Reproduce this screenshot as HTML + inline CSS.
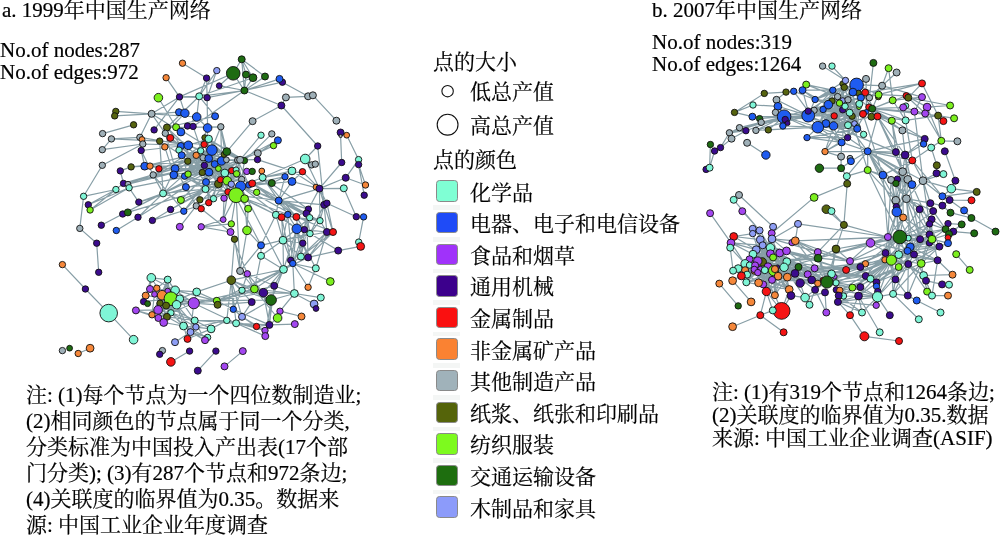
<!DOCTYPE html>
<html lang="zh"><head><meta charset="utf-8"><title>中国生产网络</title>
<style>
html,body{margin:0;padding:0;background:#fff;}
body{width:1000px;height:535px;position:relative;overflow:hidden;font-family:"Liberation Serif","Noto Serif CJK SC",serif;color:#000;font-size:21px;}
.t{position:absolute;white-space:nowrap;line-height:22px;-webkit-text-stroke:0.2px #000;will-change:transform;}
.lg{position:absolute;left:469.7px;white-space:nowrap;line-height:30px;height:30px;-webkit-text-stroke:0.2px #000;will-change:transform;}
.sw{position:absolute;left:436.4px;width:21.6px;height:21.4px;border-radius:3.5px;border:1px solid #8a8a8a;box-sizing:border-box;}
.sep{position:absolute;left:432.5px;width:27.3px;height:4.8px;background:#f4f6f5;}
svg{position:absolute;left:0;top:0;}
</style></head><body>
<svg id="net" width="1000" height="535" viewBox="0 0 1000 535">
<g id="edges" stroke="#879ea6" stroke-width="1.2" fill="none"><path d="M204.2 144.4L200.7 150.8M204.4 165.4L208.7 138.9M213.5 198.7L228.0 191.9M233.3 309.3L269.4 324.9M205.5 189.1L240.1 159.8M162.1 295.2L193.8 303.2M120.3 170.9L123.5 183.4M240.6 186.3L278.7 200.6M154.5 294.3L170.9 312.8M240.6 186.3L296.4 216.9M151.6 113.8L196.7 117.0M283.5 269.4L242.0 290.3M211.9 150.1L206.0 182.1M151.6 113.8L180.9 132.0M302.5 171.7L262.6 177.5M202.3 172.5L122.7 214.0M228.0 191.9L223.2 219.6M167.7 291.1L170.9 298.7M170.9 312.8L158.4 318.0M209.0 172.2L208.7 202.7M150.0 289.0L175.1 290.3M139.9 137.3L188.3 145.3M244.4 90.5L279.5 78.9M181.7 155.3L226.4 159.8M278.7 200.6L296.8 228.8M228.0 191.9L240.1 159.8M308.4 209.2L296.4 216.9M261.0 245.3L261.0 255.8M283.5 269.4L231.3 280.2M275.9 214.8L283.0 240.2M170.9 312.8L195.9 327.0M167.7 291.1L160.0 303.2M317.7 146.0L305.2 159.0M209.0 172.2L163.1 193.4M173.8 174.9L218.4 183.9M156.8 288.2L166.9 316.8M343.8 188.3L356.3 216.7M244.4 160.6L226.8 151.6M271.1 300.0L242.0 316.8M226.8 320.4L236.1 323.3M175.1 290.3L158.4 318.0M326.9 203.2L333.0 232.0M227.2 180.7L228.0 191.9M167.7 279.6L156.8 288.2M179.5 96.9L233.2 73.3M211.9 150.1L144.7 166.2M261.0 245.3L283.0 240.2M204.4 165.4L226.4 159.8M204.4 165.4L224.8 173.0M208.7 158.5L209.0 172.2M236.1 195.2L223.2 219.6M208.7 158.5L205.5 189.1M247.3 273.8L263.4 292.7M202.3 172.5L224.0 154.5M181.7 155.3L203.1 157.7M220.8 126.8L226.8 151.6M209.0 172.2L206.0 182.1M179.8 298.8L170.9 312.8M296.8 228.8L326.9 232.0M181.7 155.3L221.6 160.9M278.7 200.6L320.0 220.7M296.8 228.8L300.9 256.6M180.9 146.0L141.2 150.5M129.1 187.8L138.8 202.1M218.4 183.9L180.9 200.0M226.8 320.4L256.5 326.5M131.1 166.9L120.3 170.9M218.4 183.9L170.6 209.5M154.5 294.3L170.9 298.7M204.2 144.4L240.1 159.8M241.7 59.3L244.4 90.5M211.1 328.9L187.5 338.9M204.4 165.4L128.0 184.2M200.7 150.8L218.4 168.6M102.3 165.3L83.6 196.3M309.7 217.7L300.9 256.6M277.6 318.0L269.4 324.9M211.9 150.1L153.2 174.9M221.6 160.9L231.3 184.2M200.7 150.8L226.4 159.8M236.1 195.2L278.7 200.6M275.9 214.8L261.0 245.3M216.8 70.6L207.1 97.7M302.5 171.7L319.4 188.6M326.9 232.0L308.1 257.4M163.1 193.4L122.7 214.0M205.5 189.1L228.0 191.9M278.7 200.6L275.9 214.8M175.1 290.3L193.8 303.2M179.8 298.8L194.7 320.5M166.1 305.6L193.8 303.2M296.8 228.8L283.5 269.4M244.4 160.6L208.7 138.9M224.8 173.0L241.7 179.4M151.3 277.8L167.7 279.6M154.5 294.3L160.0 303.2M241.7 59.3L233.2 73.3M218.4 183.9L226.4 159.8M204.4 165.4L218.4 183.9M204.4 165.4L208.7 202.7M240.6 186.3L292.0 181.5M302.8 243.2L292.8 263.5M206.0 182.1L241.7 179.4M167.7 279.6L179.8 298.8M189.6 351.1L170.9 361.9M240.1 271.0L254.4 289.0M234.5 239.2L231.3 280.2M211.9 150.1L188.1 174.1M205.5 189.1L152.4 220.4M226.4 159.8L240.1 159.8M218.4 168.6L237.7 160.1M208.7 158.5L202.3 172.5M275.9 214.8L296.8 228.8M170.9 298.7L152.0 314.8M215.9 351.1L197.8 370.7M247.3 273.8L242.0 290.3M326.9 232.0L315.8 268.3M278.7 200.6L324.2 204.8M296.8 228.8L310.0 233.6M278.7 200.6L309.7 217.7M285.9 97.4L308.1 96.3M195.9 327.0L211.1 328.9M179.0 150.1L209.0 172.2M292.0 181.5L319.4 188.6M195.9 327.0L226.8 320.4M292.0 181.5L278.7 200.6M237.7 160.1L241.7 179.4M115.8 111.4L151.6 113.8M242.0 316.8L265.0 330.5M204.4 165.4L123.5 183.4M160.0 303.2L170.9 312.8M165.3 133.3L175.1 168.6M346.7 135.2L358.6 159.6M200.7 150.8L218.4 183.9M223.2 219.6L201.2 226.8M240.1 271.0L247.3 273.8M224.0 154.5L226.8 151.6M216.8 300.8L263.4 292.7M221.6 160.9L241.7 179.4M205.5 189.1L170.6 209.5M236.1 195.2L287.8 214.5M253.0 77.7L244.4 90.5M114.7 115.9L151.6 113.8M170.9 298.7L158.4 318.0M285.0 176.7L278.7 200.6M216.8 70.6L199.2 96.3M205.5 189.1L252.2 171.4M261.0 255.8L283.5 269.4M224.8 173.0L240.1 159.8M326.9 232.0L300.9 256.6M188.1 174.1L213.5 198.7M231.3 280.2L236.1 323.3M278.7 200.6L306.5 213.5M226.4 159.8L248.9 185.0M296.8 228.8L283.0 240.2M358.6 164.6L364.2 195.2M218.4 183.9L208.7 202.7M345.7 177.8L319.4 188.6M242.0 290.3L263.4 292.7M196.7 291.9L231.3 280.2M151.3 277.8L162.1 295.2M152.0 314.8L163.7 322.5M165.3 133.3L204.4 165.4M275.9 214.8L320.0 220.7M363.6 216.9L358.7 242.1M176.1 127.2L204.2 144.4M306.5 213.5L308.1 257.4M236.1 195.2L248.1 208.7M179.8 298.8L160.0 303.2M240.6 186.3L283.5 269.4M292.0 170.9L285.0 176.7M296.4 216.9L304.4 229.6M96.7 243.2L98.7 272.3M83.6 196.3L79.8 228.4M184.9 113.2L165.3 133.3M280.0 311.2L301.5 316.5M188.3 145.3L226.4 159.8M319.4 188.6L278.7 200.6M220.8 126.8L226.4 159.8M62.4 264.6L85.4 289.0M183.5 326.0L207.6 337.4M317.7 146.0L326.9 232.0M236.6 173.8L227.2 180.7M151.3 277.8L175.1 290.3M159.7 141.1L204.2 144.4M170.9 298.7L193.8 303.2M179.5 96.9L184.9 113.2M216.8 300.8L283.5 269.4M224.0 154.5L208.7 138.9M315.8 268.3L308.1 287.3M179.8 298.8L216.8 300.8M163.1 193.4L180.9 200.0M188.3 145.3L184.6 176.2M219.2 85.7L244.4 90.5M310.0 233.6L283.0 240.2M208.7 158.5L236.1 195.2M175.1 290.3L196.7 291.9M231.3 280.2L226.8 320.4M187.8 161.2L131.1 166.9M175.1 168.6L218.4 168.6M319.4 188.6L308.4 209.2M283.0 240.2L300.9 256.6M190.5 332.1L207.6 337.4M221.6 160.9L213.5 198.7M165.3 133.3L200.7 150.8M214.7 164.1L226.8 151.6M254.4 289.0L277.6 318.0M170.9 298.7L143.6 301.6M152.0 314.8L158.4 318.0M166.9 127.5L202.3 172.5M306.5 213.5L300.9 256.6M205.5 189.1L127.8 212.4M226.4 159.8L208.7 138.9M285.0 176.7L240.6 186.3M156.8 288.2L162.1 295.2M252.6 121.2L226.8 151.6M208.7 158.5L227.2 180.7M219.2 85.7L233.2 73.3M292.0 170.9L262.6 177.5M220.8 126.8L221.6 160.9M244.6 198.7L247.0 230.4M188.3 145.3L221.6 160.9M310.0 233.6L338.2 250.6M201.2 208.7L230.5 232.0M108.7 313.1L133.6 339.7M194.7 320.5L236.1 323.3M193.8 303.2L254.4 289.0M277.9 140.3L257.8 153.2M274.2 285.8L269.4 324.9M183.5 326.0L187.5 338.9M111.4 138.9L159.7 141.1M283.0 240.2L302.8 243.2M144.7 166.2L209.0 172.2M283.0 240.2L283.5 269.4M159.7 141.1L181.7 155.3M176.6 304.8L190.5 332.1M206.0 182.1L183.8 211.2M236.1 169.8L228.0 191.9M207.1 97.7L207.6 128.0M211.9 150.1L226.8 151.6M256.7 192.3L306.5 213.5M283.5 269.4L271.1 300.0M205.5 189.1L163.1 193.4M261.0 135.2L240.1 159.8M227.2 180.7L261.0 245.3M252.2 183.4L271.8 183.1M231.3 280.2L263.4 292.7M203.1 157.7L206.0 182.1M167.7 291.1L152.0 314.8M220.5 179.7L226.8 151.6M326.9 203.2L356.3 216.7M204.2 144.4L184.6 176.2M199.2 96.3L244.4 90.5M196.2 155.3L209.0 172.2M308.4 209.2L304.4 229.6M220.5 179.7L236.1 169.8M283.5 269.4L254.4 289.0M142.8 144.0L102.3 149.7M208.7 158.5L226.8 151.6M153.2 174.9L123.5 183.4M306.5 213.5L310.0 233.6M162.1 295.2L170.9 312.8M211.9 150.1L224.0 154.5M193.1 126.4L209.0 172.2M203.1 157.7L175.1 168.6M231.3 280.2L251.7 302.1M251.7 302.1L242.0 316.8M211.9 150.1L228.0 191.9M244.4 90.5L281.4 105.5M193.8 303.2L217.6 304.8M194.7 320.5L211.1 328.9M167.7 291.1L158.4 318.0M115.9 189.5L83.6 196.3M194.7 320.5L226.8 320.4M196.7 291.9L216.8 300.8M236.1 323.3L269.4 324.9M208.7 202.7L152.4 220.4M294.4 293.5L271.1 300.0M176.6 304.8L152.0 314.8M204.2 144.4L218.4 183.9M202.3 172.5L208.7 138.9M151.6 113.8L165.3 133.3M263.4 292.7L269.4 324.9M341.7 162.5L319.4 188.6M170.9 312.8L183.5 326.0M167.7 279.6L170.9 312.8M231.3 280.2L242.0 290.3M281.6 217.2L283.0 240.2M139.9 137.3L111.4 138.9M252.2 183.4L306.5 213.5M274.2 285.8L294.4 293.5M209.0 172.2L244.4 160.6M194.7 320.5L205.0 340.2M184.6 176.2L218.4 183.9M320.0 220.7L326.9 232.0M175.1 290.3L166.9 316.8M160.0 303.2L193.8 303.2M333.0 232.0L308.1 257.4M199.2 96.3L215.1 116.2M135.9 310.4L158.1 309.9M257.8 153.2L240.1 159.8M271.8 133.9L244.4 160.6M162.1 295.2L166.1 305.6M176.6 304.8L158.4 318.0M196.2 155.3L202.3 172.5M220.5 179.7L237.7 160.1M154.5 294.3L152.0 314.8M182.5 63.2L206.6 78.1M240.6 186.3L281.6 217.2M142.8 144.0L188.3 145.3M151.6 113.8L179.0 112.2M283.5 269.4L274.2 285.8M230.5 232.0L247.3 273.8M200.7 150.8L241.7 179.4M214.7 164.1L226.4 159.8M214.7 164.1L224.8 173.0M188.3 145.3L208.7 138.9M282.4 82.2L308.1 96.3M163.7 322.5L183.5 326.0M257.5 159.6L240.1 159.8M181.7 155.3L206.0 182.1M231.7 170.6L241.7 179.4M209.0 172.2L224.0 154.5M196.7 117.0L207.6 128.0M193.8 303.2L216.8 300.8M292.8 263.5L294.4 293.5M324.2 204.8L320.0 220.7M236.1 323.3L256.5 326.5M294.4 293.5L320.8 297.6M233.3 309.3L242.0 316.8M196.2 155.3L188.1 174.1M176.6 304.8L195.9 327.0M233.2 73.3L244.4 90.5M167.7 279.6L166.1 305.6M305.2 159.0L262.6 177.5M158.1 309.9L163.7 322.5M261.0 245.3L240.1 271.0M281.4 105.5L317.7 146.0M204.4 165.4L227.2 180.7M142.8 144.0L102.3 165.3M170.9 312.8L194.7 320.5M206.6 78.1L207.1 97.7M281.6 217.2L290.7 260.3M296.8 228.8L292.8 263.5M292.8 263.5L308.1 287.3M226.8 320.4L265.0 330.5M271.1 300.0L269.4 324.9M206.0 182.1L240.1 159.8M176.6 304.8L193.8 303.2M358.6 159.6L345.7 177.8M320.0 220.7L310.0 233.6M257.5 159.6L292.0 170.9M175.1 290.3L170.9 312.8M300.9 256.6L283.5 269.4M215.1 116.2L166.9 127.5M333.0 232.0L300.9 256.6M199.2 96.3L196.7 117.0M213.5 198.7L227.2 180.7M227.2 180.7L241.7 179.4M204.7 137.6L244.4 160.6M236.1 323.3L265.3 336.1M305.2 159.0L311.6 164.9M263.4 292.7L294.4 293.5M162.1 295.2L160.0 303.2M167.7 279.6L170.9 298.7M211.9 150.1L184.6 176.2M193.1 126.4L244.4 90.5M221.6 160.9L236.1 195.2M247.3 273.8L254.4 289.0M181.7 155.3L211.9 150.1M170.9 312.8L190.5 332.1M237.7 160.1L240.1 159.8M209.0 172.2L129.1 187.8M281.6 217.2L296.8 228.8M209.0 172.2L180.9 200.0M278.7 200.6L296.4 216.9M231.7 170.6L236.6 173.8M180.9 146.0L188.3 145.3M180.9 146.0L208.7 158.5M292.8 263.5L315.8 268.3M122.7 214.0L101.3 225.2M218.4 183.9L196.3 205.9M199.9 199.8L228.0 191.9M221.6 160.9L240.1 159.8M166.1 305.6L194.7 320.5M241.7 59.3L265.0 76.5M204.2 144.4L211.9 150.1M211.1 328.9L226.8 320.4M200.7 150.8L206.0 182.1M244.4 160.6L241.7 179.4M167.7 279.6L167.7 291.1M159.7 141.1L163.1 193.4M211.9 150.1L158.9 168.8M158.1 309.9L158.4 318.0M248.1 208.7L247.0 230.4M208.7 158.5L184.6 176.2M231.3 223.9L201.2 226.8M170.3 137.9L209.0 172.2M302.5 171.7L292.0 181.5M205.5 189.1L241.7 179.4M261.0 255.8L254.4 289.0M277.9 140.3L240.1 159.8M265.0 76.5L244.4 90.5M278.7 200.6L308.4 209.2M206.6 78.1L199.2 96.3M296.8 228.8L290.7 260.3M129.1 187.8L90.1 210.0M292.8 263.5L330.3 281.5M237.7 160.1L248.9 185.0M166.1 305.6L158.1 309.9M179.5 96.9L207.1 97.7M220.5 179.7L208.7 202.7M179.5 96.9L154.1 129.9M234.5 239.2L240.1 271.0M216.8 300.8L271.1 300.0M196.2 155.3L227.2 180.7M85.4 289.0L108.7 313.1M211.9 150.1L163.1 193.4M247.3 273.8L274.2 285.8M326.9 232.0L283.0 240.2M163.1 193.4L138.8 202.1M181.7 155.3L200.7 150.8M163.1 193.4L138.0 217.2M237.7 160.1L226.8 151.6M196.3 205.9L179.8 226.8M358.6 164.6L365.5 185.0M278.7 200.6L287.8 214.5M292.8 263.5L283.5 269.4M203.1 157.7L227.2 180.7M271.1 300.0L265.3 336.1M224.8 173.0L228.0 191.9M242.0 290.3L271.1 300.0M241.7 59.3L253.0 77.7M204.4 165.4L202.3 172.5M309.7 217.7L296.8 228.8M150.0 166.1L204.4 165.4M167.7 279.6L175.1 290.3M221.6 160.9L236.1 169.8M302.8 243.2L315.8 268.3M216.8 300.8L254.4 289.0M214.7 164.1L209.0 172.2M208.7 158.5L187.8 161.2M158.1 309.9L166.9 316.8M216.8 300.8L233.3 309.3M164.8 146.9L173.8 174.9M209.0 172.2L240.1 159.8M236.1 195.2L275.9 214.8M179.8 298.8L193.8 303.2M208.7 158.5L123.5 183.4M170.9 298.7L170.9 312.8M236.1 195.2L231.3 223.9M296.4 216.9L333.0 232.0M231.3 280.2L242.0 316.8M175.1 290.3L160.0 303.2M242.8 351.1L224.5 366.4M285.9 97.4L281.4 105.5M296.8 228.8L308.1 257.4M187.8 161.2L128.0 184.2M129.1 187.8L88.3 204.8M207.6 128.0L206.0 182.1M193.8 303.2L190.5 332.1M283.0 240.2L261.0 255.8M242.0 316.8L236.1 323.3M111.4 138.9L102.3 149.7M151.3 277.8L145.7 295.6M242.0 290.3L233.3 309.3M193.8 303.2L236.1 323.3M160.0 303.2L158.4 318.0M200.7 150.8L202.3 172.5M179.5 96.9L199.2 96.3M275.9 214.8L296.4 216.9M302.8 243.2L300.9 256.6M218.4 168.6L206.0 182.1M153.2 174.9L163.1 193.4M208.7 158.5L214.7 164.1M203.1 157.7L209.0 172.2M203.1 157.7L205.5 189.1M338.2 250.6L308.1 257.4M175.1 168.6L173.8 174.9M175.1 290.3L216.8 300.8M175.1 168.6L123.5 183.4M175.1 168.6L163.1 193.4M204.7 137.6L184.6 176.2M309.7 217.7L320.0 220.7M218.4 183.9L185.9 187.1M175.1 168.6L196.3 205.9M345.7 177.8L365.5 185.0M78.2 353.5L90.1 348.2M158.4 97.7L176.1 127.2M221.6 160.9L208.7 138.9M151.3 277.8L150.0 289.0M242.0 316.8L256.5 326.5M241.7 59.3L246.0 74.6M145.7 295.6L170.9 298.7M273.5 145.6L257.8 153.2M294.4 293.5L280.0 311.2M256.7 192.3L308.4 209.2M179.5 96.9L151.6 113.8M218.4 168.6L209.0 172.2M221.6 160.9L231.7 170.6M216.8 300.8L274.2 285.8M285.0 176.7L271.8 183.1M170.9 298.7L158.1 309.9M224.0 198.2L223.2 219.6M292.0 170.9L319.4 188.6M296.4 216.9L300.9 256.6M133.6 124.8L102.6 133.6M187.8 161.2L173.8 174.9M319.4 188.6L326.9 203.2M319.4 188.6L320.0 220.7M281.4 105.5L252.6 121.2M237.7 160.1L231.3 184.2M324.2 204.8L333.0 232.0M206.0 182.1L138.8 202.1M160.0 303.2L166.9 316.8M246.0 74.6L244.4 90.5M207.1 97.7L244.4 90.5M153.2 174.9L175.1 168.6M166.9 316.8L183.5 326.0M153.2 174.9L209.0 172.2M204.2 144.4L236.6 173.8M306.5 213.5L304.4 229.6M205.5 189.1L183.8 211.2M231.3 280.2L271.1 300.0M252.2 183.4L278.7 200.6M188.1 174.1L221.6 160.9M252.2 183.4L296.4 216.9M224.0 154.5L227.2 180.7M175.1 290.3L154.5 294.3M226.4 159.8L236.1 195.2M196.7 291.9L193.8 303.2M183.5 326.0L211.1 328.9M193.8 303.2L158.4 318.0M283.0 240.2L290.7 260.3M190.5 332.1L175.0 342.2M185.9 187.1L138.0 217.2M170.9 298.7L160.0 303.2M208.7 138.9L240.1 159.8M151.6 113.8L139.9 137.3M123.5 183.4L115.9 189.5M340.6 136.0L341.7 162.5M167.7 279.6L158.1 309.9M209.0 172.2L208.7 138.9M179.8 298.8L166.1 305.6M214.7 164.1L241.7 179.4M153.2 174.9L183.8 211.2M231.3 280.2L254.4 289.0M231.3 280.2L233.3 309.3M262.6 177.5L278.7 200.6M220.8 126.8L202.3 172.5M262.6 177.5L296.4 216.9M209.0 172.2L231.7 170.6M287.8 214.5L283.0 240.2M287.8 214.5L292.8 263.5M319.4 188.6L343.8 188.3M181.7 155.3L236.1 169.8M319.4 188.6L324.2 204.8M254.4 289.0L294.4 293.5M173.8 174.9L228.0 191.9M207.6 128.0L188.1 174.1M135.9 310.4L152.0 314.8M183.5 326.0L205.0 340.2M176.6 304.8L166.9 316.8M166.9 127.5L220.8 126.8M196.2 155.3L220.5 179.7M138.0 217.2L116.3 230.5M79.8 228.4L96.7 243.2M220.5 179.7L224.8 173.0M166.9 127.5L196.2 155.3M152.0 314.8L158.1 309.9M256.5 326.5L269.4 324.9M204.2 144.4L244.4 160.6M141.2 150.5L144.7 166.2M166.9 316.8L194.7 320.5M196.2 155.3L226.4 159.8M162.1 295.2L152.0 314.8M360.7 246.4L338.2 250.6M269.4 324.9L294.8 324.1M304.4 229.6L292.8 263.5M236.1 195.2L240.1 271.0M262.6 177.5L308.4 209.2M308.1 257.4L283.5 269.4M184.6 176.2L205.5 189.1M115.9 189.5L90.1 210.0M199.2 96.3L166.9 127.5M135.9 310.4L158.4 318.0M190.5 332.1L205.0 340.2M217.6 304.8L251.7 302.1M196.2 155.3L184.6 176.2M176.6 304.8L183.5 326.0M154.5 294.3L166.9 316.8M283.5 269.4L263.4 292.7M141.2 150.5L153.2 174.9M247.0 230.4L261.0 245.3M170.9 312.8L163.7 322.5M167.7 279.6L152.0 314.8M208.7 158.5L241.7 179.4M166.1 77.7L179.5 96.9M184.6 176.2L204.4 165.4M213.5 198.7L236.1 169.8M160.0 303.2L166.1 305.6M196.7 291.9L179.8 298.8M201.2 226.8L230.5 232.0M200.7 150.8L226.8 151.6M204.2 144.4L153.2 174.9M294.4 293.5L314.1 304.0M199.2 96.3L253.0 77.7M324.2 204.8L310.0 233.6M176.6 304.8L170.9 312.8M305.2 159.0L319.4 188.6M204.4 165.4L228.0 191.9M244.6 198.7L275.9 214.8M282.4 82.2L244.4 90.5M167.7 291.1L166.1 305.6M167.7 279.6L158.4 318.0M247.0 230.4L240.1 271.0M262.6 177.5L240.6 186.3M196.7 117.0L187.5 126.0M131.1 166.9L144.7 166.2M184.6 176.2L202.3 172.5M287.8 214.5L296.8 228.8M312.9 95.3L336.4 120.7M115.9 189.5L88.3 204.8"/><path d="M762.3 261.9L800.1 283.1M761.2 122.3L808.2 115.6M891.4 260.1L898.7 267.0M842.7 100.6L859.3 103.9M846.8 176.2L847.2 183.7M854.5 123.6L845.1 106.3M757.8 261.1L747.1 274.6M738.2 268.6L773.6 270.7M923.6 275.5L932.0 295.6M817.8 127.2L857.2 128.8M817.8 127.2L841.6 142.4M843.5 296.0L877.5 296.8M910.3 246.9L907.5 250.9M857.7 126.4L852.9 92.1M893.1 293.9L918.8 319.3M951.3 188.7L976.7 191.9M817.8 252.1L827.0 282.0M754.3 271.0L789.2 289.5M719.3 283.6L738.2 305.9M902.7 171.7L896.8 211.9M903.2 107.4L872.2 108.7M776.5 99.8L784.1 116.7M752.7 228.8L770.4 247.7M760.3 239.7L773.6 270.7M779.7 253.0L773.6 270.7M858.5 296.0L877.5 296.8M739.0 195.0L773.1 226.8M754.3 269.4L763.2 284.4M908.3 238.1L929.5 242.9M976.7 191.9L942.4 196.3M858.5 296.0L850.0 315.2M914.0 254.5L891.4 260.1M786.5 250.9L745.1 263.8M791.0 295.6L805.1 297.6M755.1 265.4L787.3 277.1M784.1 267.3L815.1 289.8M867.7 151.3L867.7 170.1M852.1 116.2L857.2 128.8M867.7 151.3L912.0 184.6M733.7 236.5L756.2 249.7M867.7 151.3L906.4 198.7M831.5 211.1L843.9 224.9M771.7 233.3L762.3 261.9M762.3 261.9L772.0 279.9M757.8 272.6L772.0 279.9M762.3 261.9L827.0 282.0M891.4 260.1L870.5 278.8M906.2 95.8L872.2 108.7M828.3 104.7L808.2 115.6M891.1 179.9L887.9 237.0M844.3 87.3L852.9 92.1M891.4 260.1L860.4 287.1M842.7 100.6L852.9 92.1M738.2 268.6L754.3 271.0M770.4 247.7L774.9 295.2M850.0 261.1L899.8 237.0M877.5 116.4L902.4 130.4M857.2 128.8L847.6 137.6M818.1 258.2L757.8 261.1M902.7 171.7L895.8 200.3M825.0 151.6L867.7 151.3M931.6 219.3L945.6 229.2M882.9 175.1L863.0 114.0M971.4 218.0L995.5 231.6M831.5 273.9L860.4 267.0M784.1 267.3L774.9 295.2M867.7 151.3L895.9 152.1M867.7 151.3L882.9 175.1M762.3 261.9L764.8 270.2M832.0 101.0L854.5 123.6M762.3 261.9L758.6 282.8M891.4 260.1L921.2 263.5M854.5 123.6L849.6 112.7M745.1 263.8L772.0 279.9M770.4 247.7L789.2 289.5M950.5 212.7L971.4 218.0M798.0 223.9L795.3 240.8M891.4 260.1L876.5 282.3M814.6 268.3L865.4 263.8M848.0 125.2L857.2 128.8M877.5 116.4L905.6 120.4M882.1 85.7L869.4 97.7M931.2 147.6L936.8 165.3M760.3 239.7L757.8 261.1M779.7 253.0L757.8 261.1M837.9 301.9L862.0 312.5M885.5 253.0L923.6 275.5M850.9 161.2L867.7 151.3M784.1 267.3L787.3 277.1M747.1 142.8L765.9 155.0M844.3 87.3L842.7 100.6M842.7 100.6L814.1 110.3M827.0 282.0L825.0 292.4M784.1 267.3L789.2 289.5M842.7 100.6L834.2 115.9M839.8 290.3L898.7 267.0M834.2 115.9L845.1 106.3M852.1 116.2L872.2 108.7M762.3 261.9L733.1 270.7M834.2 115.9L848.0 125.2M832.0 101.0L845.5 80.5M770.4 247.7L773.6 270.7M762.3 261.9L757.8 272.6M852.4 287.6L877.5 296.8M762.3 261.9L746.3 282.3M832.8 90.2L808.2 115.6M845.1 106.3L852.9 92.1M919.6 209.2L920.1 239.2M858.5 93.1L848.0 99.8M815.1 289.8L809.5 304.8M832.8 90.2L852.1 116.2M730.2 247.7L733.1 270.7M848.0 99.8L857.2 128.8M848.0 99.8L841.6 142.4M818.1 258.2L762.3 261.9M745.1 270.2L772.0 279.9M762.3 261.9L741.4 275.9M757.8 272.6L741.4 275.9M766.4 291.5L781.6 310.9M779.7 253.0L755.1 265.4M807.0 137.6L847.6 137.6M885.5 253.0L914.0 254.5M887.9 237.0L914.0 254.5M776.5 99.8L808.2 115.6M837.6 96.6L848.0 99.8M842.7 109.8L863.0 114.0M808.2 115.6L895.9 152.1M762.7 245.3L786.5 250.9M844.3 87.3L832.8 90.2M778.1 276.2L852.4 287.6M795.0 273.4L766.4 291.5M842.7 100.6L828.3 104.7M844.3 87.3L828.3 104.7M949.6 200.0L964.1 210.4M833.6 125.9L871.4 116.7M770.4 247.7L754.3 271.0M839.8 290.3L860.4 287.1M833.6 125.9L848.0 125.2M817.8 127.2L807.0 137.6M772.0 238.9L850.0 261.1M762.3 261.9L795.0 273.4M757.8 272.6L795.0 273.4M745.1 263.8L757.8 272.6M798.0 223.9L772.0 238.9M811.7 279.9L827.0 282.0M815.1 289.8L805.1 297.6M848.0 99.8L878.6 94.7M774.9 269.1L774.9 295.2M903.2 217.5L885.5 253.0M877.5 116.4L891.8 120.7M939.4 246.6L908.3 264.1M784.1 116.7L854.5 123.6M931.2 147.6L912.3 160.4M837.9 301.9L877.5 296.8M760.3 239.7L762.3 261.9M779.7 253.0L762.3 261.9M731.5 138.7L720.5 147.6M887.9 237.0L870.5 242.9M837.9 301.9L850.0 315.2M768.0 266.7L772.0 279.9M773.1 226.8L771.7 233.3M752.4 116.7L784.1 116.7M938.1 115.6L905.6 120.4M773.1 226.8L770.4 247.7M784.1 267.3L778.1 276.2M807.7 274.3L865.7 275.9M833.6 125.9L817.8 127.2M832.0 101.0L817.8 127.2M784.1 267.3L811.7 279.9M837.6 96.6L857.2 128.8M837.6 96.6L863.0 114.0M825.9 123.5L848.0 125.2M905.1 155.0L907.8 179.4M895.9 183.4L907.8 179.4M762.3 261.9L745.1 263.8M770.4 247.7L846.1 269.9M762.3 261.9L738.2 268.6M832.8 90.2L815.1 99.5M770.4 247.7L777.6 267.0M762.3 261.9L774.9 269.1M802.5 90.2L808.2 111.1M945.6 229.2L929.5 234.5M772.0 238.9L754.3 271.0M924.7 138.9L905.1 155.0M907.8 179.4L912.0 184.6M867.7 170.1L891.1 179.9M907.8 179.4L906.4 198.7M745.9 130.7L731.5 138.7M730.2 247.7L745.1 263.8M787.3 277.1L827.0 282.0M903.2 217.5L885.0 259.8M823.1 109.5L859.0 107.1M842.7 109.8L825.9 123.5M752.7 233.6L733.7 236.5M760.3 239.7L770.4 253.7M807.0 137.6L857.2 128.8M887.9 237.0L898.7 254.6M752.7 233.6L762.3 261.9M749.5 259.3L754.3 271.0M912.0 184.6L929.5 223.9M749.5 259.3L778.1 276.2M873.4 62.9L869.4 97.7M850.0 315.2L864.4 336.3M949.6 200.0L971.5 200.3M770.4 247.7L779.7 253.0M839.8 290.3L891.4 260.1M714.6 151.0L709.6 167.7M772.0 238.9L817.8 252.1M898.7 267.0L870.5 278.8M895.9 183.4L896.3 206.7M922.0 83.4L865.2 92.6M833.6 125.9L849.6 112.7M770.4 247.7L745.1 270.2M762.3 261.9L754.3 269.4M846.1 269.9L831.5 273.9M841.6 142.4L867.7 151.3M784.1 116.7L729.4 132.8M793.7 91.3L828.3 104.7M817.8 252.1L786.8 261.7M939.4 246.6L907.5 250.9M948.0 243.2L932.0 239.2M814.6 268.3L891.4 260.1M817.8 252.1L850.0 261.1M787.3 277.1L758.6 282.8M828.3 104.7L847.6 137.6M770.4 253.7L749.5 265.1M753.0 254.2L774.9 295.2M925.2 113.5L941.3 140.8M768.0 266.7L757.8 272.6M837.9 301.9L858.5 296.0M921.2 263.5L907.8 295.6M887.9 237.0L891.4 260.1M885.5 253.0L891.4 260.1M943.4 174.1L923.0 180.7M907.8 179.4L920.1 239.2M825.0 292.4L826.3 312.5M764.8 270.2L747.1 274.6M773.6 270.7L766.4 291.5M832.0 101.0L833.6 125.9M949.6 200.0L942.4 205.6M770.4 247.7L762.3 261.9M844.3 87.3L857.7 126.4M922.0 97.1L892.7 100.3M832.8 90.2L823.1 109.5M906.4 198.7L896.8 211.9M923.0 180.7L906.4 198.7M836.0 249.0L850.0 261.1M784.1 116.7L817.8 127.2M867.7 170.1L882.9 175.1M786.8 261.7L773.6 270.7M839.5 103.1L863.0 114.0M839.5 103.1L857.2 128.8M836.0 249.0L831.5 273.9M848.0 99.8L852.9 92.1M857.2 128.8L852.9 92.1M815.1 99.5L856.6 84.9M877.5 116.4L852.9 92.1M942.4 196.3L949.6 200.0M770.4 253.7L798.5 267.0M823.1 109.5L845.1 106.3M887.9 237.0L899.8 237.0M822.6 66.1L845.5 80.5M859.0 107.1L854.5 123.6M815.1 99.5L845.5 80.5M768.0 266.7L795.0 273.4M887.9 237.0L885.5 253.0M914.0 254.5L876.5 282.3M895.9 152.1L902.7 171.7M850.9 161.2L841.1 168.2M784.1 267.3L814.6 268.3M902.4 130.4L907.8 179.4M818.1 258.2L870.5 242.9M753.0 105.0L777.9 106.3M938.1 115.6L872.2 108.7M773.6 270.7L800.1 283.1M896.8 211.9L887.9 237.0M899.8 237.0L908.3 264.1M837.6 96.6L859.3 103.9M755.1 265.4L774.9 295.2M760.3 268.9L757.8 272.6M908.3 97.7L925.2 113.5M825.9 123.5L863.0 114.0M770.4 247.7L770.4 253.7M745.9 130.7L729.4 132.8M825.9 123.5L841.6 142.4M772.0 238.9L762.3 261.9M832.0 66.1L845.5 80.5M757.8 261.1L772.0 279.9M795.3 240.8L827.0 282.0M786.8 261.7L768.0 266.7M839.5 103.1L852.1 116.2M839.5 103.1L878.6 94.7M784.1 116.7L768.3 129.9M808.2 115.6L817.8 127.2M762.3 261.9L865.7 275.9M753.0 254.2L773.6 270.7M786.8 261.7L811.7 279.9M828.3 104.7L863.0 114.0M787.3 277.1L763.2 284.4M908.3 264.1L927.1 291.6M903.2 217.5L887.9 237.0M939.4 246.6L910.3 246.9M896.8 211.9L903.2 217.5M838.7 295.6L862.0 312.5M815.1 99.5L845.1 106.3M921.2 263.5L893.1 293.9M896.6 72.5L882.1 85.7M773.6 270.7L772.0 279.9M938.1 115.6L943.4 121.1M753.0 105.0L734.5 112.4M773.6 270.7L827.0 282.0M774.9 295.2L781.6 310.9M814.1 110.3L852.9 92.1M844.3 87.3L865.2 92.6M827.0 282.0L891.4 260.1M773.1 257.4L757.8 272.6M827.0 282.0L865.7 275.9M757.8 261.1L764.8 270.2M802.5 90.2L815.1 99.5M773.1 257.4L746.3 282.3M760.3 268.9L763.2 284.4M827.0 282.0L852.4 287.6M920.1 239.2L939.4 246.6M841.6 142.4L847.6 137.6M757.8 261.1L758.6 282.8M932.0 239.2L921.2 263.5M864.4 336.3L899.0 341.0M786.8 261.7L846.1 269.9M850.0 261.1L885.5 253.0M815.1 99.5L828.3 104.7M847.6 137.6L825.0 151.6M882.9 175.1L887.9 237.0M842.7 109.8L814.1 110.3M778.1 276.2L789.2 289.5M808.2 111.1L834.2 115.9M808.2 115.6L849.6 112.7M842.7 109.8L834.2 115.9M823.1 109.5L849.6 112.7M914.0 254.5L908.3 264.1M896.3 206.7L896.8 211.9M942.1 284.4L949.0 284.7M902.4 130.4L924.7 138.9M929.5 223.9L907.5 250.9M773.6 270.7L758.6 282.8M927.1 107.1L950.1 105.5M899.8 237.0L860.4 267.0M839.5 103.1L842.7 109.8M867.7 151.3L896.8 211.9M805.1 297.6L809.5 304.8M844.3 87.3L845.5 80.5M772.0 238.9L795.3 240.8M860.4 287.1L877.5 296.8M912.3 160.4L902.7 171.7M757.8 261.1L746.3 282.3M819.4 168.2L841.1 168.2M817.8 127.2L857.7 126.4M912.3 160.4L923.0 180.7M923.0 180.7L951.3 188.7M906.4 198.7L933.2 211.1M753.0 254.2L757.8 261.1M784.1 116.7L808.2 115.6M815.1 99.5L832.0 101.0M839.5 103.1L859.3 103.9M784.1 116.7L755.9 130.4M823.1 109.5L833.6 125.9M908.3 264.1L923.6 275.5M936.8 165.3L936.5 173.3M937.6 260.3L932.0 295.6M910.3 246.9L923.6 275.5M770.4 253.7L786.8 261.7M877.5 116.4L902.7 171.7M837.6 96.6L842.7 100.6M757.8 261.1L741.4 275.9M926.0 280.7L942.1 284.4M818.1 258.2L827.0 282.0M931.6 219.3L932.0 239.2M891.8 120.7L872.2 108.7M759.6 230.4L770.4 247.7M762.7 245.3L773.6 270.7M786.5 250.9L773.6 270.7M818.1 258.2L899.8 237.0M929.5 223.9L929.5 242.9M773.6 270.7L746.3 282.3M852.1 116.2L857.7 126.4M867.7 151.3L907.8 179.4M908.3 97.7L950.1 105.5M867.7 151.3L895.8 200.3M896.8 211.9L898.7 254.6M833.6 125.9L825.0 151.6M920.1 239.2L932.0 239.2M814.1 197.4L771.7 233.3M732.6 280.7L751.1 301.9M891.4 260.1L865.7 275.9M891.4 260.1L852.4 287.6M892.7 100.3L905.6 120.4M731.0 242.9L756.2 249.7M757.8 261.1L763.2 284.4M891.4 260.1L877.5 296.8M912.3 160.4L942.4 196.3M773.6 270.7L741.4 275.9M786.8 261.7L814.6 268.3M753.0 254.2L779.7 253.0M764.3 93.4L734.5 112.4M882.1 85.7L922.0 97.1M823.1 109.5L808.2 115.6M828.3 104.7L859.3 103.9M863.6 134.4L845.1 106.3M941.3 140.8L931.2 147.6M907.8 295.6L916.7 300.5M877.5 116.4L905.1 155.0M798.5 267.0L754.3 269.4M806.2 84.6L802.5 90.2M778.1 276.2L766.4 291.5M908.3 238.1L870.5 242.9M888.6 68.2L892.7 100.3M779.7 253.0L827.0 282.0M891.1 179.9L896.8 211.9M786.5 250.9L754.3 271.0M948.0 223.6L945.6 229.2M773.6 270.7L795.0 273.4M953.3 231.6L974.2 233.3M899.8 237.0L910.3 246.9M842.7 100.6L817.8 127.2M773.6 270.7L763.2 284.4M710.4 144.5L709.6 167.7M773.1 257.4L784.1 267.3M834.2 115.9L847.6 137.6M757.8 261.1L745.1 263.8M825.9 123.5L852.9 92.1M773.1 257.4L754.3 269.4M906.2 95.8L927.1 107.1M827.0 282.0L860.4 267.0M757.8 261.1L738.2 268.6M891.4 260.1L908.3 264.1M777.6 267.0L774.9 295.2M923.6 275.5L926.0 280.7M738.2 268.6L764.8 270.2M891.4 260.1L893.1 293.9M817.8 127.2L854.5 123.6M753.0 254.2L762.3 261.9M937.6 260.3L921.2 263.5M847.6 137.6L849.6 112.7M910.3 246.9L937.6 260.3M882.1 85.7L872.2 108.7M815.1 99.5L808.2 115.6M756.2 249.7L770.4 247.7M782.9 126.0L817.8 127.2M779.7 253.0L764.8 270.2M843.9 224.9L887.9 237.0M760.3 239.7L764.8 270.2M806.2 84.6L832.8 90.2M787.3 277.1L852.4 287.6M891.1 179.9L895.8 200.3M786.5 250.9L846.1 269.9M755.1 265.4L747.1 274.6M827.0 282.0L815.1 289.8M899.8 237.0L929.5 234.5M844.3 87.3L808.2 111.1M867.7 151.3L912.3 160.4M755.1 265.4L772.0 279.9M852.1 116.2L854.5 123.6M733.7 236.5L760.3 239.7M786.0 92.1L776.5 99.8M867.7 170.1L849.6 112.7M762.3 261.9L732.6 280.7M919.6 209.2L899.8 237.0M870.5 242.9L908.3 264.1M731.0 242.9L762.7 245.3M891.4 260.1L858.5 296.0M912.3 160.4L882.9 175.1M846.8 176.2L867.7 170.1M905.6 120.4L912.3 160.4M893.1 293.9L907.8 295.6M749.5 265.1L764.8 270.2M747.1 274.6L746.3 282.3M910.3 246.9L898.7 254.6M902.7 171.7L897.4 179.1M847.2 183.7L814.1 197.4M910.3 246.9L921.2 263.5M941.3 140.8L957.4 141.3M807.0 137.6L841.6 142.4M877.5 116.4L895.9 152.1M923.6 144.0L905.1 155.0M759.6 118.6L784.1 116.7M798.5 267.0L778.1 276.2M789.2 289.5L781.6 310.9M795.0 273.4L827.0 282.0M755.1 265.4L764.8 270.2M784.1 267.3L800.1 283.1M775.5 112.4L808.2 115.6M953.3 231.6L949.0 234.1M762.7 245.3L747.1 274.6M844.3 87.3L833.6 125.9M795.3 240.8L818.1 258.2M762.3 261.9L787.3 277.1M839.5 103.1L828.3 104.7M839.8 290.3L877.5 296.8M757.8 272.6L787.3 277.1M773.6 270.7L860.4 287.1M891.4 260.1L860.4 267.0M770.4 247.7L827.0 282.0M762.3 261.9L789.2 289.5M891.4 260.1L895.5 279.4M919.6 209.2L932.0 239.2M907.8 179.4L896.8 211.9M892.7 100.3L872.2 108.7M914.4 111.6L872.2 108.7M923.6 275.5L927.1 291.6M817.8 127.2L845.1 106.3M817.8 127.2L848.0 125.2M832.8 90.2L859.0 107.1M747.1 274.6L795.0 273.4M754.3 271.0L757.8 272.6M893.1 293.9L877.5 296.8M825.0 292.4L805.1 297.6M754.3 269.4L747.1 274.6M779.7 253.0L760.3 268.9M908.3 238.1L899.8 237.0M923.0 180.7L929.5 223.9M762.7 245.3L762.3 261.9M786.5 250.9L762.3 261.9M898.7 254.6L937.6 260.3M784.1 267.3L827.0 282.0M929.5 234.5L914.0 254.5M842.7 100.6L808.2 115.6M784.1 267.3L805.1 297.6M929.5 234.5L898.7 267.0M938.1 115.6L941.3 140.8M771.7 233.3L770.4 247.7M777.6 267.0L778.1 276.2M834.7 276.7L865.7 275.9M833.6 125.9L863.0 114.0M832.0 101.0L863.0 114.0M770.4 247.7L758.6 282.8M870.5 242.9L907.5 250.9M907.8 179.4L895.8 200.3M832.8 90.2L856.6 84.9M836.0 282.8L870.5 278.8M793.7 91.3L808.2 111.1M933.2 211.1L945.6 229.2M749.5 265.1L795.0 273.4M754.3 271.0L763.2 284.4M951.3 188.7L942.4 196.3M846.1 269.9L898.7 254.6M942.4 205.6L950.5 212.7M760.3 239.7L753.0 254.2M836.0 249.0L870.5 242.9M902.7 171.7L903.2 217.5M800.1 283.1L827.0 282.0M902.4 130.4L872.2 108.7M800.1 283.1L805.1 297.6M849.6 112.7L863.0 114.0M760.3 239.7L774.9 269.1M784.1 267.3L764.8 270.2M784.1 267.3L807.7 274.3M826.3 209.2L843.9 224.9M891.8 120.7L902.7 171.7M834.2 115.9L872.2 108.7M762.3 261.9L754.3 271.0M777.9 106.3L784.1 116.7M927.1 107.1L941.3 140.8M817.8 127.2L768.3 129.9M757.8 272.6L778.1 276.2M898.7 267.0L877.5 296.8M745.1 263.8L773.6 270.7M929.5 242.9L910.3 246.9M843.9 224.9L817.8 252.1M836.0 282.8L898.7 254.6M817.8 127.2L848.0 99.8M795.3 240.8L899.8 237.0M867.7 170.1L895.8 200.3M817.8 127.2L849.6 112.7M749.5 265.1L738.2 268.6M734.5 112.4L752.4 116.7M754.3 271.0L774.9 269.1M832.8 90.2L845.1 106.3M847.6 137.6L867.7 151.3M818.1 258.2L786.8 261.7M902.7 171.7L906.4 198.7M846.1 269.9L891.4 260.1M818.1 258.2L850.0 261.1M779.7 253.0L773.1 257.4M766.4 291.5L760.3 315.2M745.1 270.2L789.2 289.5M760.3 239.7L754.3 269.4M764.8 270.2L757.8 272.6M844.3 87.3L815.1 99.5M784.1 267.3L746.3 282.3M814.1 110.3L854.5 123.6M929.5 234.5L898.7 254.6M784.1 267.3L791.0 295.6M834.2 115.9L859.3 103.9M929.5 234.5L921.2 263.5M834.7 276.7L885.0 259.8M770.4 247.7L798.5 267.0M945.6 229.2L899.8 237.0M924.7 138.9L867.7 151.3M745.1 263.8L778.1 276.2M922.0 83.4L938.1 115.6M832.8 90.2L817.8 127.2M906.2 95.8L878.6 94.7M836.0 282.8L891.4 260.1M843.5 296.0L891.4 260.1M764.8 270.2L741.4 275.9M930.4 203.2L933.2 211.1M939.4 246.6L914.0 254.5M903.2 217.5L929.5 234.5M786.8 261.7L800.1 283.1M814.6 268.3L860.4 267.0M787.3 277.1L774.9 295.2M848.0 99.8L848.0 125.2M818.1 258.2L786.5 250.9M887.9 237.0L908.3 238.1M846.1 269.9L885.5 253.0M760.3 315.2L783.6 332.3M784.1 116.7L841.6 142.4M825.0 151.6L841.1 156.6M837.9 301.9L876.2 305.3M756.2 249.7L774.9 269.1M837.6 96.6L856.6 84.9M784.1 267.3L798.5 267.0M885.5 253.0L895.5 279.4M867.7 170.1L899.8 237.0M784.1 267.3L760.3 268.9M808.2 111.1L848.0 125.2M784.1 267.3L795.0 273.4M749.5 259.3L757.8 272.6M905.1 155.0L902.7 171.7M770.4 247.7L745.1 263.8M762.3 261.9L755.1 265.4M852.1 116.2L863.0 114.0M832.0 101.0L859.3 103.9M770.4 247.7L738.2 268.6M832.8 90.2L832.0 101.0M760.3 268.9L774.9 295.2M817.8 127.2L755.9 130.4M898.7 267.0L858.5 296.0M945.6 229.2L932.0 239.2M927.1 291.6L932.0 295.6M793.7 91.3L786.0 92.1M944.8 151.3L955.4 180.7M843.9 224.9L836.0 249.0M930.4 203.2L942.4 205.6M841.1 168.2L846.8 176.2M836.0 249.0L827.0 282.0M786.8 261.7L827.0 282.0M832.8 90.2L849.6 112.7M760.3 239.7L770.4 247.7M745.1 270.2L778.1 276.2M836.0 249.0L899.8 237.0M932.0 295.6L948.0 295.6M887.9 237.0L929.5 242.9M768.0 266.7L831.5 273.9M955.4 180.7L951.3 188.7M766.4 291.5L772.8 310.4M823.1 109.5L841.6 142.4M756.2 249.7L787.3 277.1M729.4 132.8L720.5 147.6M964.1 210.4L971.4 218.0M938.1 115.6L954.1 118.3M784.1 267.3L774.9 269.1M891.8 120.7L895.9 152.1M773.6 270.7L791.0 295.6M916.7 300.5L940.5 312.5M856.6 84.9L882.1 85.7M770.4 247.7L784.1 267.3M791.0 295.6L781.6 310.9M772.0 279.9L827.0 282.0M833.6 125.9L852.9 92.1M905.6 120.4L872.2 108.7M777.9 106.3L808.2 115.6M745.1 263.8L745.1 270.2M856.6 84.9L878.6 94.7M772.0 238.9L738.2 268.6M906.4 198.7L931.6 219.3M786.8 261.7L764.8 270.2M793.7 91.3L815.1 99.5M742.3 211.2L759.6 230.4M786.8 261.7L807.7 274.3M808.2 115.6L755.9 130.4M772.8 310.4L760.3 315.2M857.7 126.4L847.6 137.6M786.8 261.7L758.6 282.8M753.0 254.2L747.1 274.6M939.4 246.6L921.2 263.5M903.2 217.5L920.1 239.2M914.4 111.6L923.0 180.7M865.4 263.8L876.5 282.3M808.2 115.6L852.1 116.2M798.0 223.9L887.9 237.0M823.1 109.5L852.1 116.2M777.6 267.0L741.4 275.9M760.3 315.2L732.6 326.7M756.2 249.7L773.6 270.7M768.0 266.7L766.4 291.5M749.5 259.3L745.1 263.8M808.2 111.1L849.6 112.7M749.5 259.3L738.2 268.6M825.9 123.5L859.0 107.1M770.4 247.7L818.1 258.2M773.1 257.4L787.3 277.1M905.1 155.0L912.0 184.6M770.4 247.7L786.8 261.7M949.0 234.1L932.0 239.2M832.8 90.2L837.6 96.6M839.5 103.1L856.6 84.9M772.0 238.9L784.1 267.3M920.1 239.2L895.5 279.4M922.0 97.1L914.4 111.6M906.4 198.7L919.6 209.2M856.6 84.9L872.2 108.7M772.0 238.9L754.3 269.4M922.0 83.4L878.6 94.7M828.3 104.7L859.0 107.1M784.1 116.7L745.9 130.7M808.2 115.6L825.9 123.5M795.3 240.8L887.9 237.0M895.5 279.4L907.8 295.6M828.3 104.7L854.5 123.6M885.0 259.8L908.3 264.1M848.0 99.8L863.0 114.0M770.4 253.7L757.8 261.1M756.2 249.7L786.5 250.9M842.7 109.8L833.6 125.9M921.2 263.5L923.6 275.5M826.3 209.2L831.5 211.1M887.9 237.0L929.5 234.5M832.0 101.0L842.7 100.6M832.0 101.0L814.1 110.3M899.8 237.0L914.0 254.5M896.8 211.9L899.8 237.0M773.6 270.7L774.9 295.2M842.7 100.6L848.0 99.8M770.4 247.7L786.5 250.9M802.5 90.2L832.8 90.2M856.6 84.9L866.0 78.9M866.5 111.9L857.7 126.4M760.3 268.9L766.4 291.5M802.5 90.2L828.3 104.7M710.1 213.2L731.0 242.9M956.2 254.2L969.7 269.9M906.4 198.7L930.4 203.2M786.8 261.7L798.5 267.0M823.1 109.5L842.7 109.8M784.1 116.7L782.9 126.0M857.7 126.4L857.2 128.8M786.8 261.7L795.0 273.4M903.2 217.5L899.8 237.0M948.0 243.2L939.4 246.6M857.7 126.4L841.6 142.4M786.8 261.7L763.2 284.4M908.3 264.1L907.8 295.6M778.1 276.2L827.0 282.0M745.1 270.2L764.8 270.2M756.2 249.7L757.8 261.1M859.0 107.1L852.1 116.2M770.4 253.7L745.1 270.2M815.1 289.8L826.3 312.5M961.7 224.4L949.0 234.1M906.4 198.7L910.3 246.9M814.1 110.3L833.6 125.9M847.2 183.7L843.9 224.9M768.0 266.7L747.1 274.6M914.0 254.5L923.6 275.5M948.0 223.6L961.7 224.4M758.6 282.8L766.4 291.5M773.6 270.7L787.3 277.1M759.6 230.4L762.3 261.9M753.0 254.2L741.4 275.9M929.5 223.9L937.6 260.3M786.5 250.9L827.0 282.0M773.6 270.7L789.2 289.5M895.8 200.3L896.8 211.9M825.9 123.5L845.1 106.3M896.8 211.9L885.0 259.8M795.3 240.8L850.0 261.1M784.1 267.3L865.7 275.9M877.5 296.8L876.2 305.3M842.7 100.6L863.0 114.0M772.0 238.9L786.5 250.9M842.7 100.6L857.2 128.8M877.5 296.8L889.8 315.2M922.0 83.4L908.3 97.7M841.6 142.4L841.1 156.6M923.0 180.7L930.4 203.2M784.1 116.7L739.5 127.7M786.8 261.7L774.9 269.1M895.5 279.4L893.1 293.9M848.0 125.2L867.7 151.3M753.0 254.2L795.0 273.4M903.2 107.4L905.6 120.4M908.3 264.1L877.5 296.8M763.2 284.4L758.6 282.8M770.4 253.7L762.3 261.9M825.0 151.6L849.6 112.7M756.2 249.7L779.7 253.0M906.4 198.7L929.5 234.5M906.4 198.7L914.0 254.5M825.9 123.5L817.8 127.2M899.8 237.0L920.1 239.2M733.7 199.8L759.6 230.4M936.5 173.3L923.0 180.7M739.5 127.7L729.4 132.8M899.8 237.0L898.7 254.6M929.5 223.9L898.7 254.6M899.8 237.0L921.2 263.5M896.8 211.9L908.3 238.1M814.6 268.3L846.1 269.9M757.8 261.1L768.0 266.7M952.5 274.7L923.6 275.5M760.3 268.9L772.0 279.9M828.3 104.7L784.1 116.7M897.4 179.1L895.9 183.4M932.0 239.2L910.3 246.9M828.3 104.7L817.8 127.2M923.0 180.7L942.4 196.3M731.0 242.9L753.0 254.2M746.3 282.3L789.2 289.5M817.8 127.2L847.6 137.6M850.0 261.1L870.5 242.9M731.0 242.9L745.1 263.8M753.0 254.2L745.1 263.8M937.6 260.3L952.5 274.7M933.2 211.1L899.8 237.0M786.8 261.7L754.3 269.4M747.1 274.6L774.9 295.2M841.1 156.6L841.1 168.2M808.2 115.6L739.5 127.7M903.2 107.4L925.2 113.5M908.3 264.1L893.1 293.9M778.1 276.2L746.3 282.3M877.5 116.4L867.7 151.3M756.2 249.7L762.3 261.9M806.2 84.6L837.6 96.6M888.6 68.2L882.1 85.7M914.0 254.5L937.6 260.3M858.5 296.0L862.0 312.5M921.2 263.5L876.5 282.3M908.3 238.1L885.0 259.8M773.6 270.7L778.1 276.2M786.5 250.9L757.8 272.6M844.3 87.3L825.9 123.5M842.7 100.6L825.9 123.5M867.7 151.3L902.7 171.7M762.7 245.3L746.3 282.3M907.5 250.9L908.3 264.1M899.8 237.0L891.4 260.1M929.5 223.9L939.4 246.6M867.7 151.3L923.0 180.7M795.3 240.8L817.8 252.1M852.1 116.2L847.6 137.6M899.8 237.0L865.7 275.9M924.7 138.9L872.2 108.7M762.3 261.9L766.4 291.5M866.0 78.9L866.5 111.9M877.5 296.8L862.0 312.5M836.0 249.0L818.1 258.2M846.8 176.2L867.7 151.3M841.6 142.4L825.0 151.6M857.7 126.4L859.3 103.9M847.6 137.6L859.3 103.9M832.8 90.2L848.0 125.2M823.1 109.5L814.1 110.3M808.2 115.6L834.2 115.9M912.0 184.6L896.8 211.9M925.2 113.5L872.2 108.7M838.7 295.6L898.7 267.0M818.1 258.2L773.6 270.7M754.3 269.4L757.8 272.6M906.4 198.7L920.1 239.2M858.5 296.0L879.7 332.3M755.1 265.4L738.2 268.6M914.0 254.5L921.2 263.5M762.7 245.3L798.5 267.0M908.3 238.1L895.5 279.4M831.5 273.9L885.5 253.0M929.5 223.9L945.6 229.2M825.9 123.5L833.6 125.9M865.2 92.6L877.5 116.4M786.5 250.9L760.3 268.9M929.5 223.9L899.8 237.0M891.1 179.9L919.6 209.2M867.7 151.3L905.1 155.0M899.8 237.0L885.5 253.0M867.7 151.3L891.1 179.9M832.0 101.0L857.7 126.4M786.0 92.1L764.3 93.4"/></g>
<g id="nodes" stroke="#111" stroke-width="0.9"><circle cx="182.5" cy="63.2" r="3.2" fill="#f5873a"/><circle cx="166.1" cy="77.7" r="3.2" fill="#f5873a"/><circle cx="216.8" cy="70.6" r="3.2" fill="#8e9ef5"/><circle cx="206.6" cy="78.1" r="3.2" fill="#3b0b8e"/><circle cx="219.2" cy="85.7" r="2.9" fill="#3b0b8e"/><circle cx="158.4" cy="97.7" r="4.3" fill="#7cf01e"/><circle cx="179.5" cy="96.9" r="3.2" fill="#3b0b8e"/><circle cx="199.2" cy="96.3" r="3.5" fill="#7ff5d6"/><circle cx="207.1" cy="97.7" r="3.2" fill="#3b0b8e"/><circle cx="115.8" cy="111.4" r="3.2" fill="#56640f"/><circle cx="114.7" cy="115.9" r="3.2" fill="#56640f"/><circle cx="151.6" cy="113.8" r="3.5" fill="#9fb0b8"/><circle cx="179.0" cy="112.2" r="3.5" fill="#1f5cf0"/><circle cx="184.9" cy="113.2" r="4.2" fill="#1f5cf0"/><circle cx="196.7" cy="117.0" r="4.3" fill="#1f5cf0"/><circle cx="215.1" cy="116.2" r="3.5" fill="#1f5cf0"/><circle cx="133.6" cy="124.8" r="3.2" fill="#56640f"/><circle cx="154.1" cy="129.9" r="3.2" fill="#3b0b8e"/><circle cx="166.9" cy="127.5" r="3.5" fill="#56640f"/><circle cx="176.1" cy="127.2" r="3.5" fill="#7cf01e"/><circle cx="187.5" cy="126.0" r="3.2" fill="#3b0b8e"/><circle cx="193.1" cy="126.4" r="3.2" fill="#3b0b8e"/><circle cx="207.6" cy="128.0" r="4.3" fill="#1f5cf0"/><circle cx="180.9" cy="132.0" r="3.9" fill="#1f5cf0"/><circle cx="102.6" cy="133.6" r="3.2" fill="#9fb0b8"/><circle cx="139.9" cy="137.3" r="3.2" fill="#9fb0b8"/><circle cx="165.3" cy="133.3" r="3.2" fill="#9fb0b8"/><circle cx="170.3" cy="137.9" r="3.5" fill="#f51414"/><circle cx="241.7" cy="59.3" r="3.5" fill="#1e6b12"/><circle cx="233.2" cy="73.3" r="6.8" fill="#1e6b12"/><circle cx="246.0" cy="74.6" r="3.5" fill="#1e6b12"/><circle cx="253.0" cy="77.7" r="3.9" fill="#1e6b12"/><circle cx="265.0" cy="76.5" r="3.5" fill="#1e6b12"/><circle cx="282.4" cy="82.2" r="3.2" fill="#3b0b8e"/><circle cx="244.4" cy="90.5" r="3.5" fill="#1e6b12"/><circle cx="285.9" cy="97.4" r="3.5" fill="#9fb0b8"/><circle cx="308.1" cy="96.3" r="3.5" fill="#9fb0b8"/><circle cx="312.9" cy="95.3" r="3.5" fill="#9fb0b8"/><circle cx="281.4" cy="105.5" r="3.5" fill="#3b0b8e"/><circle cx="252.6" cy="121.2" r="3.5" fill="#9fb0b8"/><circle cx="336.4" cy="120.7" r="3.5" fill="#9fb0b8"/><circle cx="220.8" cy="126.8" r="3.2" fill="#9fb0b8"/><circle cx="261.0" cy="135.2" r="3.2" fill="#7ff5d6"/><circle cx="271.8" cy="133.9" r="3.2" fill="#9fb0b8"/><circle cx="340.6" cy="132.5" r="3.5" fill="#3b0b8e"/><circle cx="346.7" cy="135.2" r="2.9" fill="#f5873a"/><circle cx="111.4" cy="138.9" r="3.2" fill="#9fb0b8"/><circle cx="142.0" cy="139.5" r="2.9" fill="#f5873a"/><circle cx="142.8" cy="144.0" r="3.2" fill="#9fb0b8"/><circle cx="159.7" cy="141.1" r="3.2" fill="#56640f"/><circle cx="164.8" cy="146.9" r="3.2" fill="#f5873a"/><circle cx="180.9" cy="146.0" r="3.5" fill="#1f5cf0"/><circle cx="188.3" cy="145.3" r="4.3" fill="#1f5cf0"/><circle cx="179.0" cy="150.1" r="3.2" fill="#7ff5d6"/><circle cx="181.7" cy="155.3" r="3.5" fill="#1f5cf0"/><circle cx="204.2" cy="144.4" r="3.2" fill="#f51414"/><circle cx="204.7" cy="137.6" r="2.9" fill="#56640f"/><circle cx="200.7" cy="150.8" r="3.2" fill="#7ff5d6"/><circle cx="211.9" cy="150.1" r="5.3" fill="#1f5cf0"/><circle cx="196.2" cy="155.3" r="3.2" fill="#f5873a"/><circle cx="203.1" cy="157.7" r="3.2" fill="#9fb0b8"/><circle cx="208.7" cy="158.5" r="3.9" fill="#1f5cf0"/><circle cx="102.3" cy="149.7" r="3.2" fill="#9fb0b8"/><circle cx="141.2" cy="150.5" r="3.2" fill="#3b0b8e"/><circle cx="187.8" cy="161.2" r="3.2" fill="#56640f"/><circle cx="102.3" cy="165.3" r="3.2" fill="#9fb0b8"/><circle cx="131.1" cy="166.9" r="3.2" fill="#56640f"/><circle cx="144.7" cy="166.2" r="3.9" fill="#1f5cf0"/><circle cx="150.0" cy="166.1" r="3.2" fill="#f5873a"/><circle cx="158.9" cy="168.8" r="3.2" fill="#f51414"/><circle cx="120.3" cy="170.9" r="3.2" fill="#3b0b8e"/><circle cx="153.2" cy="174.9" r="3.2" fill="#9fb0b8"/><circle cx="175.1" cy="168.6" r="3.9" fill="#1f5cf0"/><circle cx="173.8" cy="174.9" r="3.9" fill="#1f5cf0"/><circle cx="184.6" cy="176.2" r="3.2" fill="#1f5cf0"/><circle cx="188.1" cy="174.1" r="3.2" fill="#7cf01e"/><circle cx="204.4" cy="165.4" r="3.2" fill="#3b0b8e"/><circle cx="214.7" cy="164.1" r="3.5" fill="#1f5cf0"/><circle cx="221.6" cy="160.9" r="4.3" fill="#1f5cf0"/><circle cx="218.4" cy="168.6" r="2.9" fill="#7cf01e"/><circle cx="202.3" cy="172.5" r="3.2" fill="#56640f"/><circle cx="209.0" cy="172.2" r="3.9" fill="#1f5cf0"/><circle cx="123.5" cy="183.4" r="3.2" fill="#3b0b8e"/><circle cx="128.0" cy="184.2" r="2.9" fill="#9fb0b8"/><circle cx="129.1" cy="187.8" r="3.2" fill="#7ff5d6"/><circle cx="115.9" cy="189.5" r="3.2" fill="#7ff5d6"/><circle cx="206.0" cy="182.1" r="3.5" fill="#1f5cf0"/><circle cx="218.4" cy="183.9" r="3.9" fill="#56640f"/><circle cx="220.5" cy="179.7" r="3.2" fill="#f51414"/><circle cx="185.9" cy="187.1" r="3.5" fill="#1f5cf0"/><circle cx="205.5" cy="189.1" r="3.5" fill="#7ff5d6"/><circle cx="163.1" cy="193.4" r="3.5" fill="#7ff5d6"/><circle cx="83.6" cy="196.3" r="3.2" fill="#7ff5d6"/><circle cx="180.9" cy="200.0" r="3.5" fill="#7cf01e"/><circle cx="199.9" cy="199.8" r="3.2" fill="#56640f"/><circle cx="213.5" cy="198.7" r="3.2" fill="#7ff5d6"/><circle cx="208.7" cy="202.7" r="3.2" fill="#f51414"/><circle cx="138.8" cy="202.1" r="3.2" fill="#3b0b8e"/><circle cx="88.3" cy="204.8" r="3.2" fill="#3b0b8e"/><circle cx="90.1" cy="210.0" r="3.2" fill="#7cf01e"/><circle cx="196.3" cy="205.9" r="3.2" fill="#9fb0b8"/><circle cx="201.2" cy="208.7" r="3.2" fill="#f51414"/><circle cx="170.6" cy="209.5" r="3.2" fill="#3b0b8e"/><circle cx="183.8" cy="211.2" r="3.2" fill="#1f5cf0"/><circle cx="122.7" cy="214.0" r="3.2" fill="#3b0b8e"/><circle cx="127.8" cy="212.4" r="3.5" fill="#1e6b12"/><circle cx="138.0" cy="217.2" r="3.2" fill="#3b0b8e"/><circle cx="152.4" cy="220.4" r="3.2" fill="#3b0b8e"/><circle cx="277.9" cy="140.3" r="3.5" fill="#1f5cf0"/><circle cx="273.5" cy="145.6" r="3.2" fill="#7cf01e"/><circle cx="317.7" cy="146.0" r="3.2" fill="#3b0b8e"/><circle cx="340.6" cy="136.0" r="1.6" fill="#9fb0b8"/><circle cx="224.0" cy="154.5" r="2.9" fill="#56640f"/><circle cx="257.8" cy="153.2" r="3.5" fill="#9fb0b8"/><circle cx="257.5" cy="159.6" r="3.2" fill="#3b0b8e"/><circle cx="226.4" cy="159.8" r="2.9" fill="#9fb0b8"/><circle cx="237.7" cy="160.1" r="3.2" fill="#9fb0b8"/><circle cx="244.4" cy="160.6" r="3.2" fill="#1e6b12"/><circle cx="305.2" cy="159.0" r="4.8" fill="#7ff5d6"/><circle cx="311.6" cy="164.9" r="3.2" fill="#9fb0b8"/><circle cx="315.3" cy="164.1" r="3.2" fill="#9fb0b8"/><circle cx="341.7" cy="162.5" r="3.2" fill="#3b0b8e"/><circle cx="358.6" cy="159.6" r="3.2" fill="#7ff5d6"/><circle cx="358.6" cy="164.6" r="3.2" fill="#3b0b8e"/><circle cx="224.8" cy="173.0" r="3.9" fill="#7ff5d6"/><circle cx="231.7" cy="170.6" r="3.2" fill="#f51414"/><circle cx="236.1" cy="169.8" r="2.9" fill="#7ff5d6"/><circle cx="236.6" cy="173.8" r="3.2" fill="#7cf01e"/><circle cx="246.8" cy="171.4" r="3.2" fill="#a346f0"/><circle cx="252.2" cy="171.4" r="3.2" fill="#1e6b12"/><circle cx="261.8" cy="171.0" r="2.9" fill="#f5873a"/><circle cx="292.0" cy="170.9" r="3.9" fill="#7ff5d6"/><circle cx="302.5" cy="171.7" r="3.2" fill="#f51414"/><circle cx="262.6" cy="177.5" r="3.5" fill="#7ff5d6"/><circle cx="285.0" cy="176.7" r="3.2" fill="#1f5cf0"/><circle cx="345.7" cy="177.8" r="3.5" fill="#3b0b8e"/><circle cx="227.2" cy="180.7" r="4.3" fill="#7cf01e"/><circle cx="241.7" cy="179.4" r="3.2" fill="#9fb0b8"/><circle cx="231.3" cy="184.2" r="3.2" fill="#8e9ef5"/><circle cx="240.6" cy="186.3" r="5.1" fill="#1f5cf0"/><circle cx="248.9" cy="185.0" r="3.2" fill="#1f5cf0"/><circle cx="252.2" cy="183.4" r="3.5" fill="#f51414"/><circle cx="271.8" cy="183.1" r="3.5" fill="#1e6b12"/><circle cx="292.0" cy="181.5" r="3.9" fill="#1f5cf0"/><circle cx="316.0" cy="187.1" r="2.9" fill="#f5873a"/><circle cx="319.4" cy="188.6" r="3.5" fill="#3b0b8e"/><circle cx="343.8" cy="188.3" r="3.5" fill="#7ff5d6"/><circle cx="365.5" cy="185.0" r="3.2" fill="#f5873a"/><circle cx="228.0" cy="191.9" r="3.2" fill="#f51414"/><circle cx="256.7" cy="192.3" r="3.2" fill="#7cf01e"/><circle cx="236.1" cy="195.2" r="7.4" fill="#7cf01e"/><circle cx="244.6" cy="198.7" r="3.9" fill="#7cf01e"/><circle cx="224.0" cy="198.2" r="3.2" fill="#a346f0"/><circle cx="364.2" cy="195.2" r="3.2" fill="#3b0b8e"/><circle cx="278.7" cy="200.6" r="3.5" fill="#1f5cf0"/><circle cx="324.2" cy="204.8" r="3.5" fill="#3b0b8e"/><circle cx="326.9" cy="203.2" r="3.2" fill="#3b0b8e"/><circle cx="248.1" cy="208.7" r="3.5" fill="#7cf01e"/><circle cx="308.4" cy="209.2" r="3.2" fill="#3b0b8e"/><circle cx="306.5" cy="213.5" r="3.5" fill="#3b0b8e"/><circle cx="275.9" cy="214.8" r="3.5" fill="#7ff5d6"/><circle cx="281.6" cy="217.2" r="3.5" fill="#f51414"/><circle cx="287.8" cy="214.5" r="3.2" fill="#1f5cf0"/><circle cx="296.4" cy="216.9" r="3.5" fill="#f51414"/><circle cx="309.7" cy="217.7" r="3.2" fill="#7ff5d6"/><circle cx="320.0" cy="220.7" r="3.2" fill="#7ff5d6"/><circle cx="356.3" cy="216.7" r="3.2" fill="#3b0b8e"/><circle cx="363.6" cy="216.9" r="3.2" fill="#1f5cf0"/><circle cx="223.2" cy="219.6" r="2.9" fill="#a346f0"/><circle cx="231.3" cy="223.9" r="3.2" fill="#7cf01e"/><circle cx="79.8" cy="228.4" r="3.2" fill="#9fb0b8"/><circle cx="101.3" cy="225.2" r="3.2" fill="#3b0b8e"/><circle cx="116.3" cy="230.5" r="3.2" fill="#1f5cf0"/><circle cx="179.8" cy="226.8" r="3.5" fill="#a346f0"/><circle cx="201.2" cy="226.8" r="3.2" fill="#a346f0"/><circle cx="96.7" cy="243.2" r="3.2" fill="#3b0b8e"/><circle cx="62.4" cy="264.6" r="3.2" fill="#f5873a"/><circle cx="98.7" cy="272.3" r="3.2" fill="#3b0b8e"/><circle cx="85.4" cy="289.0" r="3.2" fill="#3b0b8e"/><circle cx="151.3" cy="277.8" r="4.3" fill="#7ff5d6"/><circle cx="167.7" cy="279.6" r="3.5" fill="#7ff5d6"/><circle cx="150.0" cy="289.0" r="3.5" fill="#a346f0"/><circle cx="156.8" cy="288.2" r="3.2" fill="#f5873a"/><circle cx="175.1" cy="290.3" r="4.3" fill="#7ff5d6"/><circle cx="167.7" cy="291.1" r="2.9" fill="#a346f0"/><circle cx="196.7" cy="291.9" r="3.9" fill="#7ff5d6"/><circle cx="145.7" cy="295.6" r="3.5" fill="#f5873a"/><circle cx="154.5" cy="294.3" r="2.9" fill="#a346f0"/><circle cx="162.1" cy="295.2" r="4.8" fill="#f5873a"/><circle cx="170.9" cy="298.7" r="6.8" fill="#7cf01e"/><circle cx="179.8" cy="298.8" r="3.9" fill="#7ff5d6"/><circle cx="143.6" cy="301.6" r="3.2" fill="#3b0b8e"/><circle cx="147.6" cy="303.7" r="2.9" fill="#1e6b12"/><circle cx="160.0" cy="303.2" r="3.2" fill="#56640f"/><circle cx="166.1" cy="305.6" r="3.5" fill="#56640f"/><circle cx="176.6" cy="304.8" r="4.3" fill="#7ff5d6"/><circle cx="193.8" cy="303.2" r="5.6" fill="#a346f0"/><circle cx="216.8" cy="300.8" r="3.5" fill="#7cf01e"/><circle cx="217.6" cy="304.8" r="3.5" fill="#56640f"/><circle cx="230.5" cy="232.0" r="3.5" fill="#a346f0"/><circle cx="247.0" cy="230.4" r="4.3" fill="#7cf01e"/><circle cx="234.5" cy="239.2" r="3.2" fill="#56640f"/><circle cx="296.8" cy="228.8" r="4.8" fill="#1f5cf0"/><circle cx="304.4" cy="229.6" r="3.2" fill="#3b0b8e"/><circle cx="310.0" cy="233.6" r="3.2" fill="#7ff5d6"/><circle cx="326.9" cy="232.0" r="3.5" fill="#3b0b8e"/><circle cx="333.0" cy="232.0" r="3.5" fill="#f51414"/><circle cx="261.0" cy="245.3" r="3.5" fill="#1f5cf0"/><circle cx="283.0" cy="240.2" r="3.9" fill="#7ff5d6"/><circle cx="302.8" cy="243.2" r="3.2" fill="#3b0b8e"/><circle cx="358.7" cy="242.1" r="3.2" fill="#7ff5d6"/><circle cx="360.7" cy="246.4" r="3.9" fill="#f51414"/><circle cx="338.2" cy="250.6" r="3.5" fill="#3b0b8e"/><circle cx="261.0" cy="255.8" r="3.5" fill="#7ff5d6"/><circle cx="300.9" cy="256.6" r="3.5" fill="#7ff5d6"/><circle cx="308.1" cy="257.4" r="3.5" fill="#3b0b8e"/><circle cx="290.7" cy="260.3" r="3.2" fill="#3b0b8e"/><circle cx="292.8" cy="263.5" r="3.2" fill="#1f5cf0"/><circle cx="283.5" cy="269.4" r="3.9" fill="#7ff5d6"/><circle cx="315.8" cy="268.3" r="3.5" fill="#7ff5d6"/><circle cx="240.1" cy="271.0" r="3.5" fill="#9fb0b8"/><circle cx="247.3" cy="273.8" r="3.2" fill="#a346f0"/><circle cx="231.3" cy="280.2" r="4.3" fill="#56640f"/><circle cx="330.3" cy="281.5" r="3.9" fill="#7cf01e"/><circle cx="308.1" cy="287.3" r="3.2" fill="#f5873a"/><circle cx="274.2" cy="285.8" r="3.5" fill="#3b0b8e"/><circle cx="254.4" cy="289.0" r="3.9" fill="#7cf01e"/><circle cx="242.0" cy="290.3" r="3.2" fill="#7ff5d6"/><circle cx="263.4" cy="292.7" r="4.3" fill="#3b0b8e"/><circle cx="294.4" cy="293.5" r="3.9" fill="#7ff5d6"/><circle cx="320.8" cy="297.6" r="3.5" fill="#7ff5d6"/><circle cx="271.1" cy="300.0" r="5.3" fill="#1e6b12"/><circle cx="251.7" cy="302.1" r="3.5" fill="#3b0b8e"/><circle cx="314.1" cy="304.0" r="3.9" fill="#8e9ef5"/><circle cx="316.0" cy="308.5" r="2.9" fill="#3b0b8e"/><circle cx="233.3" cy="309.3" r="3.2" fill="#1f5cf0"/><circle cx="108.7" cy="313.1" r="8.8" fill="#7ff5d6"/><circle cx="135.9" cy="310.4" r="3.5" fill="#a346f0"/><circle cx="152.0" cy="314.8" r="3.2" fill="#f5873a"/><circle cx="158.1" cy="309.9" r="4.3" fill="#a346f0"/><circle cx="170.9" cy="312.8" r="3.2" fill="#7ff5d6"/><circle cx="166.9" cy="316.8" r="3.5" fill="#56640f"/><circle cx="158.4" cy="318.0" r="3.5" fill="#a346f0"/><circle cx="163.7" cy="322.5" r="3.9" fill="#a346f0"/><circle cx="194.7" cy="320.5" r="3.5" fill="#7ff5d6"/><circle cx="183.5" cy="326.0" r="3.9" fill="#7ff5d6"/><circle cx="195.9" cy="327.0" r="3.2" fill="#8e9ef5"/><circle cx="211.1" cy="328.9" r="3.9" fill="#7ff5d6"/><circle cx="190.5" cy="332.1" r="3.5" fill="#8e9ef5"/><circle cx="187.5" cy="338.9" r="3.5" fill="#f51414"/><circle cx="207.6" cy="337.4" r="3.2" fill="#7ff5d6"/><circle cx="205.0" cy="340.2" r="3.5" fill="#a346f0"/><circle cx="175.0" cy="342.2" r="3.5" fill="#8e9ef5"/><circle cx="133.6" cy="339.7" r="4.3" fill="#7ff5d6"/><circle cx="62.4" cy="350.6" r="3.2" fill="#9fb0b8"/><circle cx="69.6" cy="348.2" r="2.9" fill="#1e6b12"/><circle cx="78.2" cy="353.5" r="3.2" fill="#f5873a"/><circle cx="90.1" cy="348.2" r="3.9" fill="#f5873a"/><circle cx="162.4" cy="350.6" r="3.2" fill="#9fb0b8"/><circle cx="159.7" cy="354.3" r="3.2" fill="#3b0b8e"/><circle cx="189.6" cy="351.1" r="3.2" fill="#3b0b8e"/><circle cx="215.9" cy="351.1" r="3.2" fill="#3b0b8e"/><circle cx="170.9" cy="361.9" r="4.3" fill="#f51414"/><circle cx="197.8" cy="370.7" r="3.5" fill="#3b0b8e"/><circle cx="242.0" cy="316.8" r="3.5" fill="#8e9ef5"/><circle cx="226.8" cy="320.4" r="3.2" fill="#7ff5d6"/><circle cx="236.1" cy="323.3" r="3.5" fill="#7ff5d6"/><circle cx="280.0" cy="311.2" r="3.2" fill="#a346f0"/><circle cx="277.6" cy="318.0" r="4.3" fill="#7cf01e"/><circle cx="301.5" cy="316.5" r="3.5" fill="#f5873a"/><circle cx="256.5" cy="326.5" r="3.2" fill="#f51414"/><circle cx="269.4" cy="324.9" r="3.5" fill="#3b0b8e"/><circle cx="294.8" cy="324.1" r="3.5" fill="#a346f0"/><circle cx="265.0" cy="330.5" r="3.2" fill="#a346f0"/><circle cx="265.3" cy="336.1" r="3.5" fill="#a346f0"/><circle cx="242.8" cy="351.1" r="3.5" fill="#a346f0"/><circle cx="224.5" cy="366.4" r="3.5" fill="#a346f0"/><circle cx="279.5" cy="78.9" r="3.5" fill="#1f5cf0"/><circle cx="208.7" cy="138.9" r="3.7" fill="#7ff5d6"/><circle cx="226.8" cy="151.6" r="3.9" fill="#1e6b12"/><circle cx="240.1" cy="159.8" r="3.5" fill="#9fb0b8"/><circle cx="822.6" cy="66.1" r="3.2" fill="#9fb0b8"/><circle cx="832.0" cy="66.1" r="3.2" fill="#7ff5d6"/><circle cx="842.7" cy="83.8" r="2.9" fill="#56640f"/><circle cx="844.3" cy="87.3" r="3.2" fill="#56640f"/><circle cx="806.2" cy="84.6" r="3.5" fill="#7cf01e"/><circle cx="802.5" cy="90.2" r="3.5" fill="#1f5cf0"/><circle cx="793.7" cy="91.3" r="3.2" fill="#1f5cf0"/><circle cx="786.0" cy="92.1" r="3.2" fill="#56640f"/><circle cx="764.3" cy="93.4" r="3.2" fill="#56640f"/><circle cx="832.8" cy="90.2" r="3.2" fill="#1f5cf0"/><circle cx="776.5" cy="99.8" r="3.5" fill="#9fb0b8"/><circle cx="815.1" cy="99.5" r="3.2" fill="#1f5cf0"/><circle cx="837.6" cy="96.6" r="3.2" fill="#9fb0b8"/><circle cx="832.0" cy="101.0" r="3.2" fill="#56640f"/><circle cx="842.7" cy="100.6" r="2.9" fill="#8e9ef5"/><circle cx="839.5" cy="103.1" r="3.2" fill="#7cf01e"/><circle cx="753.0" cy="105.0" r="3.2" fill="#7ff5d6"/><circle cx="777.9" cy="106.3" r="3.9" fill="#1f5cf0"/><circle cx="828.3" cy="104.7" r="4.3" fill="#1f5cf0"/><circle cx="823.1" cy="109.5" r="3.2" fill="#1f5cf0"/><circle cx="842.7" cy="109.8" r="3.2" fill="#3b0b8e"/><circle cx="734.5" cy="112.4" r="3.2" fill="#56640f"/><circle cx="775.5" cy="112.4" r="3.2" fill="#9fb0b8"/><circle cx="814.1" cy="110.3" r="3.2" fill="#9fb0b8"/><circle cx="752.4" cy="116.7" r="3.5" fill="#1f5cf0"/><circle cx="759.6" cy="118.6" r="3.2" fill="#1e6b12"/><circle cx="761.2" cy="122.3" r="3.2" fill="#9fb0b8"/><circle cx="784.1" cy="116.7" r="6.8" fill="#1f5cf0"/><circle cx="785.2" cy="119.5" r="3.2" fill="#3b0b8e"/><circle cx="787.6" cy="123.2" r="2.4" fill="#3b0b8e"/><circle cx="808.2" cy="115.6" r="6.4" fill="#1f5cf0"/><circle cx="808.2" cy="111.1" r="3.2" fill="#3b0b8e"/><circle cx="834.2" cy="115.9" r="3.2" fill="#f51414"/><circle cx="782.9" cy="126.0" r="3.2" fill="#1f5cf0"/><circle cx="825.9" cy="123.5" r="3.9" fill="#1f5cf0"/><circle cx="833.6" cy="125.9" r="4.2" fill="#1f5cf0"/><circle cx="817.8" cy="127.2" r="5.8" fill="#1f5cf0"/><circle cx="739.5" cy="127.7" r="3.2" fill="#9fb0b8"/><circle cx="745.9" cy="130.7" r="3.2" fill="#3b0b8e"/><circle cx="755.9" cy="130.4" r="3.2" fill="#9fb0b8"/><circle cx="768.3" cy="129.9" r="3.2" fill="#56640f"/><circle cx="729.4" cy="132.8" r="3.2" fill="#9fb0b8"/><circle cx="807.0" cy="137.6" r="3.2" fill="#1f5cf0"/><circle cx="873.4" cy="62.9" r="3.5" fill="#1e6b12"/><circle cx="888.6" cy="68.2" r="3.5" fill="#7cf01e"/><circle cx="896.6" cy="72.5" r="3.5" fill="#9fb0b8"/><circle cx="856.6" cy="84.9" r="6.8" fill="#1f5cf0"/><circle cx="866.0" cy="78.9" r="3.5" fill="#9fb0b8"/><circle cx="882.1" cy="85.7" r="3.5" fill="#9fb0b8"/><circle cx="922.0" cy="83.4" r="3.5" fill="#f51414"/><circle cx="858.5" cy="93.1" r="2.9" fill="#56640f"/><circle cx="865.2" cy="92.6" r="3.5" fill="#f51414"/><circle cx="860.9" cy="97.7" r="3.5" fill="#1f5cf0"/><circle cx="869.4" cy="97.7" r="3.2" fill="#9fb0b8"/><circle cx="878.3" cy="96.9" r="2.9" fill="#56640f"/><circle cx="906.2" cy="95.8" r="3.2" fill="#f51414"/><circle cx="908.3" cy="97.7" r="3.5" fill="#56640f"/><circle cx="922.0" cy="97.1" r="3.5" fill="#a346f0"/><circle cx="848.0" cy="99.8" r="3.2" fill="#9fb0b8"/><circle cx="892.7" cy="100.3" r="3.5" fill="#7cf01e"/><circle cx="859.0" cy="107.1" r="2.4" fill="#7cf01e"/><circle cx="868.9" cy="107.1" r="3.2" fill="#f51414"/><circle cx="905.9" cy="105.8" r="2.9" fill="#7ff5d6"/><circle cx="903.2" cy="107.4" r="3.5" fill="#a346f0"/><circle cx="927.1" cy="107.1" r="3.9" fill="#a346f0"/><circle cx="950.1" cy="105.5" r="3.5" fill="#7cf01e"/><circle cx="852.1" cy="116.2" r="3.2" fill="#56640f"/><circle cx="866.5" cy="111.9" r="2.4" fill="#1f5cf0"/><circle cx="871.4" cy="116.7" r="3.5" fill="#56640f"/><circle cx="877.5" cy="116.4" r="3.5" fill="#f51414"/><circle cx="914.4" cy="111.6" r="3.5" fill="#a346f0"/><circle cx="925.2" cy="113.5" r="3.5" fill="#a346f0"/><circle cx="938.1" cy="115.6" r="3.5" fill="#56640f"/><circle cx="954.1" cy="118.3" r="3.5" fill="#7cf01e"/><circle cx="943.4" cy="121.1" r="3.5" fill="#f51414"/><circle cx="891.8" cy="120.7" r="3.5" fill="#7cf01e"/><circle cx="905.6" cy="120.4" r="3.5" fill="#7ff5d6"/><circle cx="848.0" cy="125.2" r="3.5" fill="#7ff5d6"/><circle cx="854.5" cy="123.6" r="2.9" fill="#8e9ef5"/><circle cx="857.7" cy="126.4" r="2.4" fill="#7ff5d6"/><circle cx="857.2" cy="128.8" r="3.5" fill="#1f5cf0"/><circle cx="902.4" cy="130.4" r="3.5" fill="#9fb0b8"/><circle cx="863.6" cy="134.4" r="3.2" fill="#7ff5d6"/><circle cx="731.5" cy="138.7" r="3.5" fill="#9fb0b8"/><circle cx="747.1" cy="142.8" r="3.5" fill="#9fb0b8"/><circle cx="710.4" cy="144.5" r="3.2" fill="#1e6b12"/><circle cx="720.5" cy="147.6" r="3.2" fill="#3b0b8e"/><circle cx="714.6" cy="151.0" r="3.2" fill="#3b0b8e"/><circle cx="765.9" cy="155.0" r="4.2" fill="#1f5cf0"/><circle cx="841.6" cy="142.4" r="3.5" fill="#1f5cf0"/><circle cx="847.6" cy="137.6" r="3.2" fill="#3b0b8e"/><circle cx="825.0" cy="151.6" r="3.2" fill="#f5873a"/><circle cx="841.1" cy="156.6" r="3.5" fill="#9fb0b8"/><circle cx="850.0" cy="158.2" r="2.9" fill="#9fb0b8"/><circle cx="850.9" cy="161.2" r="3.5" fill="#1f5cf0"/><circle cx="706.1" cy="169.4" r="3.2" fill="#3b0b8e"/><circle cx="709.6" cy="167.7" r="3.5" fill="#7ff5d6"/><circle cx="819.4" cy="168.2" r="4.2" fill="#1e6b12"/><circle cx="841.1" cy="168.2" r="3.5" fill="#1e6b12"/><circle cx="846.8" cy="176.2" r="3.5" fill="#7ff5d6"/><circle cx="847.2" cy="183.7" r="3.5" fill="#56640f"/><circle cx="739.0" cy="195.0" r="3.5" fill="#9fb0b8"/><circle cx="733.7" cy="199.8" r="3.5" fill="#7ff5d6"/><circle cx="814.1" cy="197.4" r="3.9" fill="#7cf01e"/><circle cx="826.3" cy="209.2" r="4.3" fill="#56640f"/><circle cx="831.5" cy="211.1" r="3.5" fill="#7ff5d6"/><circle cx="710.1" cy="213.2" r="3.5" fill="#a346f0"/><circle cx="742.3" cy="211.2" r="3.5" fill="#a346f0"/><circle cx="798.0" cy="223.9" r="3.5" fill="#8e9ef5"/><circle cx="924.7" cy="138.9" r="3.5" fill="#3b0b8e"/><circle cx="923.6" cy="144.0" r="3.2" fill="#1f5cf0"/><circle cx="941.3" cy="140.8" r="3.5" fill="#7cf01e"/><circle cx="957.4" cy="141.3" r="3.5" fill="#9fb0b8"/><circle cx="931.2" cy="147.6" r="3.5" fill="#7ff5d6"/><circle cx="867.7" cy="151.3" r="3.5" fill="#1f5cf0"/><circle cx="895.9" cy="152.1" r="3.5" fill="#3b0b8e"/><circle cx="905.1" cy="155.0" r="3.9" fill="#3b0b8e"/><circle cx="944.8" cy="151.3" r="3.5" fill="#3b0b8e"/><circle cx="912.3" cy="160.4" r="3.5" fill="#f51414"/><circle cx="936.8" cy="165.3" r="3.5" fill="#56640f"/><circle cx="867.7" cy="170.1" r="3.5" fill="#7cf01e"/><circle cx="902.7" cy="171.7" r="3.9" fill="#9fb0b8"/><circle cx="936.5" cy="173.3" r="3.5" fill="#3b0b8e"/><circle cx="943.4" cy="174.1" r="3.5" fill="#7ff5d6"/><circle cx="882.9" cy="175.1" r="3.9" fill="#1f5cf0"/><circle cx="891.1" cy="179.9" r="3.5" fill="#9fb0b8"/><circle cx="897.4" cy="179.1" r="3.2" fill="#3b0b8e"/><circle cx="895.9" cy="183.4" r="3.2" fill="#1e6b12"/><circle cx="907.8" cy="179.4" r="3.9" fill="#9fb0b8"/><circle cx="912.0" cy="184.6" r="3.9" fill="#1f5cf0"/><circle cx="923.0" cy="180.7" r="3.9" fill="#9fb0b8"/><circle cx="955.4" cy="180.7" r="3.5" fill="#3b0b8e"/><circle cx="951.3" cy="188.7" r="4.3" fill="#7ff5d6"/><circle cx="976.7" cy="191.9" r="3.5" fill="#56640f"/><circle cx="942.4" cy="196.3" r="3.5" fill="#1f5cf0"/><circle cx="949.6" cy="200.0" r="3.5" fill="#3b0b8e"/><circle cx="971.5" cy="200.3" r="3.5" fill="#f51414"/><circle cx="895.8" cy="200.3" r="3.9" fill="#9fb0b8"/><circle cx="906.4" cy="198.7" r="3.9" fill="#9fb0b8"/><circle cx="930.4" cy="203.2" r="3.5" fill="#3b0b8e"/><circle cx="942.4" cy="205.6" r="3.5" fill="#3b0b8e"/><circle cx="896.3" cy="206.7" r="3.2" fill="#3b0b8e"/><circle cx="896.8" cy="211.9" r="4.8" fill="#1f5cf0"/><circle cx="903.2" cy="217.5" r="3.5" fill="#f5873a"/><circle cx="919.6" cy="209.2" r="3.5" fill="#3b0b8e"/><circle cx="933.2" cy="211.1" r="3.5" fill="#3b0b8e"/><circle cx="964.1" cy="210.4" r="3.5" fill="#1f5cf0"/><circle cx="950.5" cy="212.7" r="3.5" fill="#1e6b12"/><circle cx="971.4" cy="218.0" r="3.5" fill="#1e6b12"/><circle cx="931.6" cy="219.3" r="3.5" fill="#3b0b8e"/><circle cx="948.0" cy="223.6" r="3.2" fill="#3b0b8e"/><circle cx="752.7" cy="228.8" r="3.5" fill="#8e9ef5"/><circle cx="759.6" cy="230.4" r="3.5" fill="#8e9ef5"/><circle cx="752.7" cy="233.6" r="3.2" fill="#8e9ef5"/><circle cx="773.1" cy="226.8" r="3.5" fill="#8e9ef5"/><circle cx="771.7" cy="233.3" r="3.5" fill="#a346f0"/><circle cx="772.0" cy="238.9" r="3.9" fill="#8e9ef5"/><circle cx="843.9" cy="224.9" r="3.5" fill="#56640f"/><circle cx="733.7" cy="236.5" r="3.9" fill="#f51414"/><circle cx="731.0" cy="242.9" r="3.9" fill="#a346f0"/><circle cx="730.2" cy="247.7" r="3.5" fill="#7ff5d6"/><circle cx="760.3" cy="239.7" r="3.9" fill="#8e9ef5"/><circle cx="762.7" cy="245.3" r="3.5" fill="#8e9ef5"/><circle cx="756.2" cy="249.7" r="3.9" fill="#8e9ef5"/><circle cx="770.4" cy="247.7" r="4.2" fill="#7ff5d6"/><circle cx="792.1" cy="242.6" r="3.2" fill="#a346f0"/><circle cx="795.3" cy="240.8" r="3.9" fill="#f5873a"/><circle cx="836.0" cy="249.0" r="3.9" fill="#56640f"/><circle cx="817.8" cy="252.1" r="3.5" fill="#a346f0"/><circle cx="818.1" cy="258.2" r="3.9" fill="#1e6b12"/><circle cx="753.0" cy="254.2" r="3.9" fill="#7ff5d6"/><circle cx="770.4" cy="253.7" r="3.9" fill="#a346f0"/><circle cx="779.7" cy="253.0" r="3.9" fill="#a346f0"/><circle cx="786.5" cy="250.9" r="3.9" fill="#a346f0"/><circle cx="773.1" cy="257.4" r="3.5" fill="#7cf01e"/><circle cx="749.5" cy="259.3" r="3.5" fill="#a346f0"/><circle cx="762.3" cy="261.9" r="4.2" fill="#56640f"/><circle cx="757.8" cy="261.1" r="4.2" fill="#a346f0"/><circle cx="786.8" cy="261.7" r="3.9" fill="#7ff5d6"/><circle cx="745.1" cy="263.8" r="4.2" fill="#7ff5d6"/><circle cx="749.5" cy="265.1" r="3.2" fill="#7ff5d6"/><circle cx="755.1" cy="265.4" r="3.5" fill="#a346f0"/><circle cx="768.0" cy="266.7" r="3.9" fill="#a346f0"/><circle cx="784.1" cy="267.3" r="4.2" fill="#7ff5d6"/><circle cx="798.5" cy="267.0" r="3.5" fill="#1e6b12"/><circle cx="814.6" cy="268.3" r="3.5" fill="#a346f0"/><circle cx="846.1" cy="269.9" r="3.5" fill="#f51414"/><circle cx="850.0" cy="261.1" r="3.5" fill="#a346f0"/><circle cx="738.2" cy="268.6" r="3.9" fill="#7ff5d6"/><circle cx="733.1" cy="270.7" r="3.5" fill="#7ff5d6"/><circle cx="745.1" cy="270.2" r="3.5" fill="#f5873a"/><circle cx="754.3" cy="271.0" r="3.2" fill="#f5873a"/><circle cx="754.3" cy="269.4" r="3.2" fill="#a346f0"/><circle cx="760.3" cy="268.9" r="2.6" fill="#a346f0"/><circle cx="764.8" cy="270.2" r="3.5" fill="#7ff5d6"/><circle cx="777.6" cy="267.0" r="2.1" fill="#3b0b8e"/><circle cx="773.6" cy="270.7" r="5.1" fill="#7cf01e"/><circle cx="774.9" cy="269.1" r="3.5" fill="#f5873a"/><circle cx="757.8" cy="272.6" r="3.2" fill="#a346f0"/><circle cx="747.1" cy="274.6" r="3.5" fill="#7ff5d6"/><circle cx="778.1" cy="276.2" r="3.9" fill="#f5873a"/><circle cx="787.3" cy="277.1" r="3.9" fill="#f5873a"/><circle cx="795.0" cy="273.4" r="3.9" fill="#3b0b8e"/><circle cx="807.7" cy="274.3" r="3.5" fill="#a346f0"/><circle cx="834.7" cy="276.7" r="2.4" fill="#a346f0"/><circle cx="831.5" cy="273.9" r="3.9" fill="#7ff5d6"/><circle cx="732.6" cy="280.7" r="3.9" fill="#f5873a"/><circle cx="746.3" cy="282.3" r="3.5" fill="#7ff5d6"/><circle cx="772.0" cy="279.9" r="3.5" fill="#a346f0"/><circle cx="811.7" cy="279.9" r="3.9" fill="#3b0b8e"/><circle cx="719.3" cy="283.6" r="3.5" fill="#f5873a"/><circle cx="763.2" cy="284.4" r="3.5" fill="#a346f0"/><circle cx="758.6" cy="282.8" r="3.9" fill="#f5873a"/><circle cx="800.1" cy="283.1" r="4.2" fill="#3b0b8e"/><circle cx="822.6" cy="279.9" r="2.4" fill="#f51414"/><circle cx="817.8" cy="283.4" r="3.2" fill="#f5873a"/><circle cx="836.0" cy="282.8" r="3.2" fill="#7ff5d6"/><circle cx="827.0" cy="282.0" r="6.1" fill="#1e6b12"/><circle cx="766.4" cy="291.5" r="4.2" fill="#f51414"/><circle cx="789.2" cy="289.5" r="3.9" fill="#f5873a"/><circle cx="815.1" cy="289.8" r="3.5" fill="#3b0b8e"/><circle cx="825.0" cy="292.4" r="3.5" fill="#3b0b8e"/><circle cx="836.3" cy="289.8" r="3.2" fill="#3b0b8e"/><circle cx="839.8" cy="290.3" r="3.2" fill="#f5873a"/><circle cx="774.9" cy="295.2" r="3.5" fill="#f5873a"/><circle cx="791.0" cy="295.6" r="3.9" fill="#3b0b8e"/><circle cx="805.1" cy="297.6" r="4.3" fill="#7ff5d6"/><circle cx="843.5" cy="296.0" r="3.2" fill="#7ff5d6"/><circle cx="838.7" cy="295.6" r="3.5" fill="#3b0b8e"/><circle cx="751.1" cy="301.9" r="3.9" fill="#f5873a"/><circle cx="837.9" cy="301.9" r="3.5" fill="#3b0b8e"/><circle cx="809.5" cy="304.8" r="3.5" fill="#7ff5d6"/><circle cx="738.2" cy="305.9" r="3.2" fill="#1e6b12"/><circle cx="929.5" cy="223.9" r="3.2" fill="#3b0b8e"/><circle cx="961.7" cy="224.4" r="3.5" fill="#1e6b12"/><circle cx="945.6" cy="229.2" r="3.5" fill="#1e6b12"/><circle cx="953.3" cy="231.6" r="3.5" fill="#3b0b8e"/><circle cx="949.0" cy="234.1" r="3.5" fill="#1e6b12"/><circle cx="974.2" cy="233.3" r="3.5" fill="#1e6b12"/><circle cx="995.5" cy="231.6" r="3.5" fill="#1e6b12"/><circle cx="948.0" cy="237.6" r="2.9" fill="#f51414"/><circle cx="948.0" cy="243.2" r="3.5" fill="#1f5cf0"/><circle cx="887.9" cy="237.0" r="3.5" fill="#a346f0"/><circle cx="908.3" cy="238.1" r="2.9" fill="#7ff5d6"/><circle cx="899.8" cy="237.0" r="6.8" fill="#1e6b12"/><circle cx="920.1" cy="239.2" r="3.5" fill="#3b0b8e"/><circle cx="929.5" cy="234.5" r="3.5" fill="#3b0b8e"/><circle cx="929.5" cy="242.9" r="3.2" fill="#3b0b8e"/><circle cx="932.0" cy="239.2" r="3.9" fill="#7cf01e"/><circle cx="939.4" cy="246.6" r="3.5" fill="#3b0b8e"/><circle cx="870.5" cy="242.9" r="4.3" fill="#a346f0"/><circle cx="910.3" cy="246.9" r="3.9" fill="#1f5cf0"/><circle cx="907.5" cy="250.9" r="3.5" fill="#1f5cf0"/><circle cx="885.5" cy="253.0" r="3.5" fill="#3b0b8e"/><circle cx="898.7" cy="254.6" r="3.9" fill="#7ff5d6"/><circle cx="914.0" cy="254.5" r="3.5" fill="#3b0b8e"/><circle cx="956.2" cy="254.2" r="3.5" fill="#7cf01e"/><circle cx="885.0" cy="259.8" r="3.2" fill="#f5873a"/><circle cx="891.4" cy="260.1" r="5.1" fill="#7cf01e"/><circle cx="937.6" cy="260.3" r="3.5" fill="#3b0b8e"/><circle cx="865.4" cy="263.8" r="3.2" fill="#f5873a"/><circle cx="860.4" cy="267.0" r="3.5" fill="#3b0b8e"/><circle cx="908.3" cy="264.1" r="3.5" fill="#3b0b8e"/><circle cx="921.2" cy="263.5" r="3.9" fill="#7cf01e"/><circle cx="898.7" cy="267.0" r="3.5" fill="#7cf01e"/><circle cx="969.7" cy="269.9" r="3.5" fill="#7cf01e"/><circle cx="952.5" cy="274.7" r="3.5" fill="#f5873a"/><circle cx="865.7" cy="275.9" r="3.5" fill="#3b0b8e"/><circle cx="870.5" cy="278.8" r="3.5" fill="#7ff5d6"/><circle cx="923.6" cy="275.5" r="3.9" fill="#7ff5d6"/><circle cx="895.5" cy="279.4" r="3.5" fill="#3b0b8e"/><circle cx="926.0" cy="280.7" r="3.5" fill="#3b0b8e"/><circle cx="876.5" cy="282.3" r="3.5" fill="#3b0b8e"/><circle cx="876.5" cy="286.3" r="3.2" fill="#1f5cf0"/><circle cx="942.1" cy="284.4" r="3.5" fill="#3b0b8e"/><circle cx="949.0" cy="284.7" r="3.5" fill="#7ff5d6"/><circle cx="852.4" cy="287.6" r="3.5" fill="#7cf01e"/><circle cx="860.4" cy="287.1" r="3.5" fill="#3b0b8e"/><circle cx="877.8" cy="291.5" r="3.2" fill="#3b0b8e"/><circle cx="927.1" cy="291.6" r="3.5" fill="#7cf01e"/><circle cx="893.1" cy="293.9" r="3.5" fill="#7ff5d6"/><circle cx="907.8" cy="295.6" r="3.5" fill="#3b0b8e"/><circle cx="932.0" cy="295.6" r="3.5" fill="#7ff5d6"/><circle cx="948.0" cy="295.6" r="3.5" fill="#f5873a"/><circle cx="858.5" cy="296.0" r="3.9" fill="#3b0b8e"/><circle cx="877.5" cy="296.8" r="5.1" fill="#7ff5d6"/><circle cx="916.7" cy="300.5" r="3.5" fill="#1f5cf0"/><circle cx="876.2" cy="305.3" r="3.2" fill="#a346f0"/><circle cx="781.6" cy="310.9" r="8.4" fill="#f51414"/><circle cx="772.8" cy="310.4" r="3.5" fill="#7ff5d6"/><circle cx="760.3" cy="315.2" r="3.5" fill="#f51414"/><circle cx="732.6" cy="326.7" r="3.9" fill="#f5873a"/><circle cx="783.6" cy="332.3" r="3.5" fill="#f51414"/><circle cx="826.3" cy="312.5" r="3.5" fill="#a346f0"/><circle cx="850.0" cy="315.2" r="3.5" fill="#f51414"/><circle cx="862.0" cy="312.5" r="3.5" fill="#7ff5d6"/><circle cx="889.8" cy="315.2" r="3.5" fill="#3b0b8e"/><circle cx="918.8" cy="319.3" r="3.5" fill="#7ff5d6"/><circle cx="940.5" cy="312.5" r="3.5" fill="#7ff5d6"/><circle cx="879.7" cy="332.3" r="3.5" fill="#7ff5d6"/><circle cx="864.4" cy="336.3" r="4.5" fill="#f51414"/><circle cx="899.0" cy="341.0" r="3.5" fill="#f51414"/><circle cx="845.5" cy="80.5" r="3.2" fill="#8e9ef5"/><circle cx="859.3" cy="103.9" r="3.5" fill="#7ff5d6"/><circle cx="878.6" cy="94.7" r="3.5" fill="#7cf01e"/><circle cx="849.6" cy="112.7" r="3.5" fill="#7ff5d6"/><circle cx="845.1" cy="106.3" r="3.2" fill="#7ff5d6"/><circle cx="852.9" cy="92.1" r="3.9" fill="#1f5cf0"/><circle cx="872.2" cy="108.7" r="3.5" fill="#1e6b12"/><circle cx="863.0" cy="114.0" r="3.5" fill="#f51414"/><circle cx="741.4" cy="275.9" r="3.9" fill="#f51414"/></g>
<circle cx="447.6" cy="91.2" r="5.7" fill="#fff" stroke="#111" stroke-width="1.1"/>
<circle cx="447.6" cy="124.7" r="10.4" fill="#fff" stroke="#111" stroke-width="1.1"/>
</svg>
<div class="t" style="left:2.3px;top:-1.4px;">a. 1999年中国生产网络</div>
<div class="t" style="left:0px;top:39.1px;">No.of nodes:287<br>No.of edges:972</div>
<div class="t" style="left:651.6px;top:-1.4px;">b. 2007年中国生产网络</div>
<div class="t" style="left:651.6px;top:30.9px;">No.of nodes:319<br>No.of edges:1264</div>
<div class="t" style="left:25.8px;top:381.8px;line-height:26px;">注: (1)每个节点为一个四位数制造业;<br>(2)相同颜色的节点属于同一个分类,<br>分类标准为中国投入产出表(17个部<br>门分类); (3)有287个节点和972条边;<br>(4)关联度的临界值为0.35。数据来<br>源: 中国工业企业年度调查</div>
<div class="t" style="left:712.3px;top:381.4px;line-height:23px;">注: (1)有319个节点和1264条边;<br>(2)关联度的临界值为0.35.数据<br>来源: 中国工业企业调查(ASIF)</div>
<div class="lg" style="left:433.2px;top:47.2px;">点的大小</div>
<div class="lg" style="top:76.9px;">低总产值</div>
<div class="lg" style="top:111.4px;">高总产值</div>
<div class="lg" style="left:433.2px;top:144.5px;">点的颜色</div>
<div class="sw" style="top:180.4px;background:#7fffd4;"></div><div class="lg" style="top:177.5px;">化学品</div>
<div class="sep" style="top:205.3px;"></div>
<div class="sw" style="top:212.0px;background:#1f4bf7;"></div><div class="lg" style="top:209.1px;">电器、电子和电信设备</div>
<div class="sep" style="top:236.9px;"></div>
<div class="sw" style="top:243.6px;background:#a032fa;"></div><div class="lg" style="top:240.7px;">食品和烟草</div>
<div class="sep" style="top:268.5px;"></div>
<div class="sw" style="top:275.2px;background:#3c008c;"></div><div class="lg" style="top:272.3px;">通用机械</div>
<div class="sep" style="top:300.1px;"></div>
<div class="sw" style="top:306.8px;background:#fa1010;"></div><div class="lg" style="top:303.9px;">金属制品</div>
<div class="sep" style="top:331.7px;"></div>
<div class="sw" style="top:338.4px;background:#fa8232;"></div><div class="lg" style="top:335.5px;">非金属矿产品</div>
<div class="sep" style="top:363.3px;"></div>
<div class="sw" style="top:370.0px;background:#a0b2ba;"></div><div class="lg" style="top:367.1px;">其他制造产品</div>
<div class="sep" style="top:394.9px;"></div>
<div class="sw" style="top:401.6px;background:#55640a;"></div><div class="lg" style="top:398.7px;">纸浆、纸张和印刷品</div>
<div class="sep" style="top:426.5px;"></div>
<div class="sw" style="top:433.2px;background:#7dfa1e;"></div><div class="lg" style="top:430.3px;">纺织服装</div>
<div class="sep" style="top:458.1px;"></div>
<div class="sw" style="top:464.8px;background:#1e6e0f;"></div><div class="lg" style="top:461.9px;">交通运输设备</div>
<div class="sep" style="top:489.7px;"></div>
<div class="sw" style="top:496.4px;background:#8c9bfa;"></div><div class="lg" style="top:493.5px;">木制品和家具</div>
</body></html>
